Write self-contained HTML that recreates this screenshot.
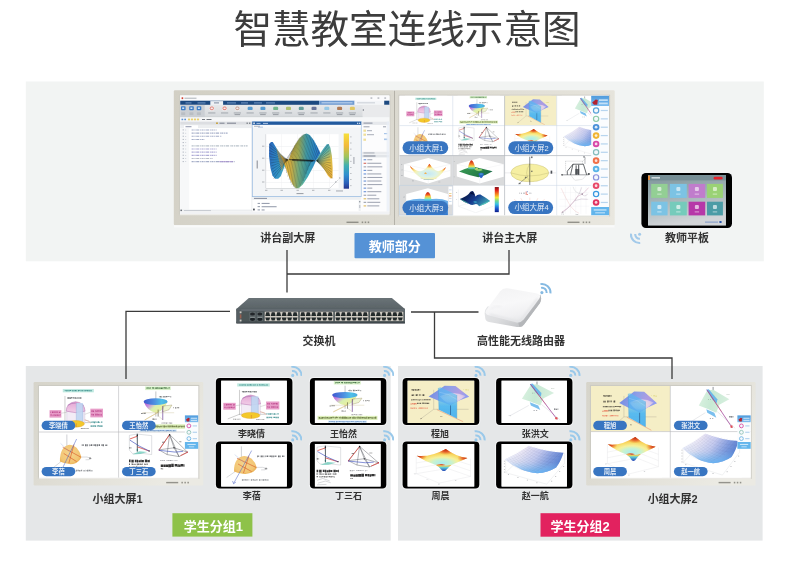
<!DOCTYPE html><html lang="zh"><head><meta charset="utf-8"><title>diagram</title><style>html,body{margin:0;padding:0;background:#fff;font-family:"Liberation Sans",sans-serif}svg{display:block}svg text{font-family:"Liberation Sans","Noto Sans CJK SC",sans-serif}</style></head><body><svg width="800" height="587" viewBox="0 0 800 587" role="img" aria-label="智慧教室连线示意图"><title>智慧教室连线示意图</title><desc>教师部分：讲台副大屏、讲台主大屏（小组大屏1、小组大屏2、小组大屏3、小组大屏4）、教师平板；交换机；高性能无线路由器；学生分组1：小组大屏1、李晓倩、王怡然、李蓓、丁三石；学生分组2：小组大屏2、程旭、张洪文、周晨、赵一航</desc><defs><filter id="b2" x="-5%" y="-10%" width="110%" height="120%"><feGaussianBlur stdDeviation="0.28"/></filter><filter id="b3" x="-5%" y="-5%" width="110%" height="110%"><feGaussianBlur stdDeviation="0.35"/></filter><filter id="b5" x="-5%" y="-5%" width="110%" height="110%"><feGaussianBlur stdDeviation="0.5"/></filter><filter id="b7" x="-5%" y="-5%" width="110%" height="110%"><feGaussianBlur stdDeviation="0.7"/></filter><linearGradient id="bez" x1="0" y1="0" x2="1" y2="0.55"><stop offset="0" stop-color="#d6d4ca"/><stop offset="0.45" stop-color="#dedcd3"/><stop offset="1" stop-color="#ebeae3"/></linearGradient><linearGradient id="bezW" gradientUnits="userSpaceOnUse" x1="174" y1="85" x2="615" y2="300"><stop offset="0" stop-color="#d2cfc4"/><stop offset="0.5" stop-color="#dddbd2"/><stop offset="1" stop-color="#ebe9e1"/></linearGradient><linearGradient id="sbh" x1="0" y1="0" x2="0" y2="1"><stop offset="0" stop-color="#4f9bdc"/><stop offset="1" stop-color="#7dbdf0"/></linearGradient><linearGradient id="mtb" x1="0" y1="0" x2="0" y2="1"><stop offset="0" stop-color="#e6e8ea"/><stop offset="1" stop-color="#d6d9dc"/></linearGradient><linearGradient id="sfL" x1="0" y1="0" x2="1" y2="0.3"><stop offset="0" stop-color="#2a62b8"/><stop offset="0.55" stop-color="#2f8fc8"/><stop offset="1" stop-color="#46a9b8"/></linearGradient><linearGradient id="sfB" x1="0" y1="0" x2="1" y2="0"><stop offset="0" stop-color="#e9b73c"/><stop offset="0.3" stop-color="#e3bd45"/><stop offset="0.52" stop-color="#7fc08c"/><stop offset="0.75" stop-color="#3ea6b4"/><stop offset="1" stop-color="#2f86c4"/></linearGradient><linearGradient id="sfT" x1="0" y1="0" x2="1" y2="0"><stop offset="0" stop-color="#e8bb40"/><stop offset="0.3" stop-color="#b9c25c"/><stop offset="0.55" stop-color="#48aab4"/><stop offset="0.8" stop-color="#2d8acb"/><stop offset="1" stop-color="#2a6fc0"/></linearGradient><linearGradient id="sfR" x1="0.2" y1="0" x2="0.6" y2="1"><stop offset="0" stop-color="#2f8cc8"/><stop offset="0.3" stop-color="#58b0aa"/><stop offset="0.6" stop-color="#d9bd4a"/><stop offset="1" stop-color="#eab23a"/></linearGradient><linearGradient id="parula" x1="0" y1="0" x2="0" y2="1"><stop offset="0" stop-color="#f6e03a"/><stop offset="0.22" stop-color="#f2ba3a"/><stop offset="0.42" stop-color="#9fc45c"/><stop offset="0.58" stop-color="#3fb0b0"/><stop offset="0.75" stop-color="#2f8fd0"/><stop offset="0.9" stop-color="#2c5fb8"/><stop offset="1" stop-color="#26358c"/></linearGradient><linearGradient id="gAdome" x1="0" y1="0" x2="0" y2="1"><stop offset="0" stop-color="#e4a6d4"/><stop offset="1" stop-color="#f2cfe8"/></linearGradient><linearGradient id="gBrim" x1="0" y1="0" x2="1" y2="0"><stop offset="0" stop-color="#3f58d0"/><stop offset="0.45" stop-color="#4f8fe0"/><stop offset="0.75" stop-color="#4fc0e8"/><stop offset="1" stop-color="#48a8e0"/></linearGradient><linearGradient id="gBbody" x1="0" y1="0" x2="1" y2="0.5"><stop offset="0" stop-color="#a848c4"/><stop offset="0.3" stop-color="#c890e0"/><stop offset="0.55" stop-color="#d8f0b0"/><stop offset="0.8" stop-color="#e8f0a0"/><stop offset="1" stop-color="#b8e0d0"/></linearGradient><radialGradient id="gCb" cx="0.45" cy="0.45" r="0.65"><stop offset="0" stop-color="#f6d48c"/><stop offset="0.7" stop-color="#f2c674"/><stop offset="1" stop-color="#e6a848"/></radialGradient><linearGradient id="gEh" x1="0" y1="0" x2="1" y2="0.3"><stop offset="0" stop-color="#6f86e0"/><stop offset="0.5" stop-color="#8fa0e8"/><stop offset="0.8" stop-color="#b09ce0"/><stop offset="1" stop-color="#8f9cf0"/></linearGradient><linearGradient id="gEp" x1="0" y1="0" x2="0" y2="1"><stop offset="0" stop-color="#58bcf4" stop-opacity="0.6"/><stop offset="0.45" stop-color="#4cb6f2" stop-opacity="0.72"/><stop offset="0.6" stop-color="#4cb6f2" stop-opacity="0.92"/><stop offset="1" stop-color="#48b0f0" stop-opacity="0.95"/></linearGradient><radialGradient id="gEi" cx="0.5" cy="0.4" r="0.6"><stop offset="0" stop-color="#f2e4dc"/><stop offset="0.6" stop-color="#e0cde8"/><stop offset="1" stop-color="#a8a4e8"/></radialGradient><linearGradient id="gFg" x1="0" y1="0" x2="1" y2="0.2"><stop offset="0" stop-color="#dcf2e2"/><stop offset="0.5" stop-color="#c8e9d4"/><stop offset="1" stop-color="#d6efde"/></linearGradient><radialGradient id="gGs" gradientUnits="userSpaceOnUse" cx="330" cy="180" r="300" gradientTransform="translate(0,112) scale(1,0.38)"><stop offset="0" stop-color="#a8ecf0"/><stop offset="0.3" stop-color="#c8f2d0"/><stop offset="0.5" stop-color="#f6f09a"/><stop offset="0.75" stop-color="#f8d860"/><stop offset="1" stop-color="#f4ac40"/></radialGradient><radialGradient id="gGr"><stop offset="0" stop-color="#b82414"/><stop offset="0.45" stop-color="#e04c24" stop-opacity="0.85"/><stop offset="1" stop-color="#f08030" stop-opacity="0"/></radialGradient><linearGradient id="gGu" x1="0" y1="0" x2="0" y2="1"><stop offset="0" stop-color="#e86030"/><stop offset="0.22" stop-color="#f0d050"/><stop offset="0.45" stop-color="#60d0d8"/><stop offset="1" stop-color="#2848b8"/></linearGradient><clipPath id="gGc"><path d="M86 112 Q215 128 363 47 Q460 120 570 132 Q470 175 420 196 Q350 215 308 197 Q290 195 268 200 Q170 170 86 112 Z"/></clipPath><linearGradient id="gHs" x1="0" y1="0.2" x2="1" y2="0.5"><stop offset="0" stop-color="#f6f5fb"/><stop offset="0.3" stop-color="#e8e4f4"/><stop offset="0.55" stop-color="#c4c8ee"/><stop offset="0.78" stop-color="#8098dc"/><stop offset="1" stop-color="#4a70c8"/></linearGradient><linearGradient id="gHb" x1="0" y1="0" x2="0" y2="1"><stop offset="0" stop-color="#fff" stop-opacity="0"/><stop offset="0.6" stop-color="#8cc8f4" stop-opacity="0.15"/><stop offset="1" stop-color="#60b4f4" stop-opacity="0.85"/></linearGradient><radialGradient id="gIs" gradientUnits="userSpaceOnUse" cx="207" cy="130" r="150" gradientTransform="translate(0,78) scale(1,0.4)"><stop offset="0" stop-color="#c4e8f6"/><stop offset="0.4" stop-color="#dcf2e8"/><stop offset="0.65" stop-color="#f6f2b4"/><stop offset="0.85" stop-color="#f8d878"/><stop offset="1" stop-color="#f4a850"/></radialGradient><radialGradient id="gIr"><stop offset="0" stop-color="#dc3c20"/><stop offset="0.5" stop-color="#f08838" stop-opacity="0.8"/><stop offset="1" stop-color="#f8c050" stop-opacity="0"/></radialGradient><clipPath id="gIc"><path d="M74 74 Q120 112 150 112 Q190 104 216 58 Q246 104 280 112 Q310 108 336 84 Q316 128 262 166 Q212 186 160 164 Q104 128 74 74 Z"/></clipPath><linearGradient id="gJs" x1="0" y1="0" x2="1" y2="0.4"><stop offset="0" stop-color="#3a9a58"/><stop offset="0.5" stop-color="#2e8a4c"/><stop offset="1" stop-color="#1e6e48"/></linearGradient><linearGradient id="gJp" x1="0" y1="0" x2="0" y2="1"><stop offset="0" stop-color="#c82018"/><stop offset="0.4" stop-color="#f07828"/><stop offset="0.65" stop-color="#e8e050"/><stop offset="0.85" stop-color="#58c8c0"/><stop offset="1" stop-color="#3a9a58"/></linearGradient><linearGradient id="gKp" x1="0" y1="0" x2="0" y2="1"><stop offset="0" stop-color="#c01810"/><stop offset="0.3" stop-color="#f05820"/><stop offset="0.5" stop-color="#f8c840"/><stop offset="0.7" stop-color="#a8e890"/><stop offset="0.85" stop-color="#58d0e0"/><stop offset="1" stop-color="#4aa0e0"/></linearGradient><linearGradient id="gKs" x1="0" y1="0" x2="0" y2="1"><stop offset="0" stop-color="#6fb4ec"/><stop offset="1" stop-color="#3478cc"/></linearGradient><linearGradient id="jet" x1="0" y1="0" x2="0" y2="1"><stop offset="0" stop-color="#7c0c10"/><stop offset="0.12" stop-color="#e01c18"/><stop offset="0.3" stop-color="#f89020"/><stop offset="0.42" stop-color="#f0e838"/><stop offset="0.55" stop-color="#70d890"/><stop offset="0.68" stop-color="#38c0e8"/><stop offset="0.85" stop-color="#1c58d0"/><stop offset="1" stop-color="#0c1c88"/></linearGradient><linearGradient id="gLs" x1="0" y1="0" x2="1" y2="0.5"><stop offset="0" stop-color="#2a7cb0"/><stop offset="0.3" stop-color="#0c2058"/><stop offset="0.6" stop-color="#183c90"/><stop offset="1" stop-color="#3a9cb0"/></linearGradient><linearGradient id="ttbg" x1="0" y1="0" x2="0.25" y2="1"><stop offset="0" stop-color="#7d949a"/><stop offset="0.45" stop-color="#9fb0b4"/><stop offset="1" stop-color="#d2d5d8"/></linearGradient><linearGradient id="swtop" x1="0" y1="0" x2="0" y2="1"><stop offset="0" stop-color="#6a7377"/><stop offset="1" stop-color="#5a6367"/></linearGradient><linearGradient id="rtop" x1="0.25" y1="0" x2="0.55" y2="1"><stop offset="0" stop-color="#f3f3f4"/><stop offset="0.45" stop-color="#f8f8f9"/><stop offset="0.8" stop-color="#f0f0f2"/><stop offset="1" stop-color="#e6e7e9"/></linearGradient><linearGradient id="rside" x1="0" y1="0" x2="1" y2="0.5"><stop offset="0" stop-color="#e9eaec"/><stop offset="0.5" stop-color="#dcdddf"/><stop offset="1" stop-color="#bcbec1"/></linearGradient><filter id="b9" x="-10%" y="-10%" width="120%" height="120%"><feGaussianBlur stdDeviation="0.8"/></filter><filter id="gb" filterUnits="userSpaceOnUse" x="0" y="0" width="800" height="587"><feGaussianBlur stdDeviation="0.3"/></filter></defs><rect width="800" height="587" fill="#fff"/><g filter="url(#gb)"><rect x="25.8" y="81.5" width="738" height="179.8" fill="#f2f4f3"/>
<rect x="25.8" y="366" width="364.9" height="174.6" fill="#e5e7e8"/>
<rect x="398" y="366" width="364.6" height="174.6" fill="#e5e7e8"/>
<text x="407" y="43" font-size="38.6" fill="#3c3c3c" text-anchor="middle">智慧教室连线示意图</text>
<path d="M287 250 L287 292.5" fill="none" stroke="#3a3a3a" stroke-width="1.3" stroke-linejoin="miter"/>
<path d="M287 274 L509 274 L509 250" fill="none" stroke="#3a3a3a" stroke-width="1.3" stroke-linejoin="miter"/>
<path d="M230 311.3 L126 311.3 L126 379" fill="none" stroke="#3a3a3a" stroke-width="1.3" stroke-linejoin="miter"/>
<path d="M411 312 L478.5 312" fill="none" stroke="#3a3a3a" stroke-width="1.3" stroke-linejoin="miter"/>
<path d="M434.5 312 L434.5 358 L672 358 L672 379" fill="none" stroke="#3a3a3a" stroke-width="1.3" stroke-linejoin="miter"/>
<text x="287.7" y="242" font-size="11" font-weight="bold" fill="#323232" text-anchor="middle" filter="url(#b2)">讲台副大屏</text>
<text x="509.7" y="242" font-size="11" font-weight="bold" fill="#323232" text-anchor="middle" filter="url(#b2)">讲台主大屏</text>
<text x="687" y="241.5" font-size="11" font-weight="bold" fill="#323232" text-anchor="middle" filter="url(#b2)">教师平板</text>
<text x="319" y="344.7" font-size="11" font-weight="bold" fill="#323232" text-anchor="middle" filter="url(#b2)">交换机</text>
<text x="521" y="344.8" font-size="11" font-weight="bold" fill="#323232" text-anchor="middle" filter="url(#b2)">高性能无线路由器</text>
<text x="117.5" y="502.8" font-size="11" font-weight="bold" fill="#323232" text-anchor="middle" filter="url(#b2)">小组大屏1</text>
<text x="672.7" y="502.6" font-size="11" font-weight="bold" fill="#323232" text-anchor="middle" filter="url(#b2)">小组大屏2</text>
<text x="251.5" y="436.8" font-size="9" font-weight="bold" fill="#323232" text-anchor="middle" filter="url(#b2)">李晓倩</text>
<text x="343.5" y="436.8" font-size="9" font-weight="bold" fill="#323232" text-anchor="middle" filter="url(#b2)">王怡然</text>
<text x="251.8" y="499" font-size="9" font-weight="bold" fill="#323232" text-anchor="middle" filter="url(#b2)">李蓓</text>
<text x="348.4" y="498.8" font-size="9" font-weight="bold" fill="#323232" text-anchor="middle" filter="url(#b2)">丁三石</text>
<text x="440" y="436.7" font-size="9" font-weight="bold" fill="#323232" text-anchor="middle" filter="url(#b2)">程旭</text>
<text x="535.2" y="436.7" font-size="9" font-weight="bold" fill="#323232" text-anchor="middle" filter="url(#b2)">张洪文</text>
<text x="440.4" y="498.7" font-size="9" font-weight="bold" fill="#323232" text-anchor="middle" filter="url(#b2)">周晨</text>
<text x="535.2" y="498.8" font-size="9" font-weight="bold" fill="#323232" text-anchor="middle" filter="url(#b2)">赵一航</text>
<rect x="354.5" y="233" width="80.5" height="25.3" rx="1" fill="#5492d6"/>
<text x="394.7" y="251" font-size="13" font-weight="bold" fill="#fff" text-anchor="middle" filter="url(#b2)">教师部分</text>
<rect x="172.4" y="513.2" width="80" height="23.400000000000034" fill="#8ec24a"/>
<text x="213.4" y="530.5" font-size="13" font-weight="bold" fill="#fff" text-anchor="middle" filter="url(#b2)">学生分组1</text>
<rect x="540.5" y="513.2" width="79.5" height="23.5" fill="#e2245e"/>
<text x="580.2" y="530.5" font-size="13" font-weight="bold" fill="#fff" text-anchor="middle" filter="url(#b2)">学生分组2</text>
<g><g filter="url(#b3)"><rect x="173.8" y="90.3" width="220.5" height="134.89999999999998" rx="1.2" fill="url(#bezW)"/><rect x="179.1" y="94.5" width="211.3" height="120.80000000000001" fill="#cccbc3"/><rect x="179.89999999999998" y="214" width="209.70000000000002" height="1.3" fill="#eeede8"/><rect x="180.2" y="95.6" width="209.10000000000002" height="118.4" fill="#fff"/><rect x="346.5" y="221.6" width="12" height="1.4" fill="#7e7d76" opacity="0.8"/><rect x="361.7" y="221.49999999999997" width="1.5" height="1.6" fill="#7e7d76" opacity="0.8"/><rect x="364.7" y="221.49999999999997" width="1.5" height="1.6" fill="#7e7d76" opacity="0.8"/><rect x="367.7" y="221.49999999999997" width="1.5" height="1.6" fill="#7e7d76" opacity="0.8"/></g><g filter="url(#b3)"><rect x="180.2" y="95.6" width="209.10000000000002" height="118.4" fill="#fdfdfd"/><rect x="180.2" y="95.6" width="209.10000000000002" height="5.2" fill="#fbfbfc"/><rect x="181.6" y="97.3" width="1.6" height="1.8" fill="#d04030"/><rect x="184.5" y="97.7" width="12" height="1" fill="#9aa0a8" opacity="0.8"/><rect x="370.5" y="97.6" width="1.8" height="0.9" fill="#8a9098"/><rect x="377.5" y="97.6" width="1.8" height="0.9" fill="#8a9098"/><rect x="384.3" y="97.6" width="1.8" height="0.9" fill="#8a9098"/><rect x="180.2" y="100.7" width="139.0" height="4.2" fill="#1d4a80"/><rect x="210.3" y="101.1" width="12.8" height="3.9" fill="#eef1f5"/><rect x="214" y="102.4" width="5" height="1" fill="#7d8aa0"/><rect x="185.5" y="102.4" width="6.0" height="1" fill="#8fb0dc" opacity="0.75"/><rect x="197.5" y="102.4" width="8.0" height="1" fill="#8fb0dc" opacity="0.75"/><rect x="227" y="102.4" width="9" height="1" fill="#8fb0dc" opacity="0.75"/><rect x="241" y="102.4" width="7" height="1" fill="#8fb0dc" opacity="0.75"/><rect x="254" y="102.4" width="8" height="1" fill="#8fb0dc" opacity="0.75"/><rect x="266" y="102.4" width="9" height="1" fill="#8fb0dc" opacity="0.75"/><rect x="319.2" y="100.7" width="35.4" height="4.2" fill="#6e9ad0"/><rect x="321.5" y="102.2" width="31" height="1.2" fill="#c9dcf2" opacity="0.8"/><rect x="354.6" y="100.7" width="29.6" height="4.2" fill="#f3f5f8"/><rect x="357" y="102.4" width="18" height="0.9" fill="#c5cad2"/><rect x="384.2" y="100.7" width="5.100000000000023" height="4.2" fill="#1d4a80"/><rect x="180.2" y="104.9" width="209.10000000000002" height="12.4" fill="url(#mtb)"/><rect x="180.2" y="104.9" width="24.5" height="12.4" fill="#cbcfd4"/><rect x="362.5" y="104.9" width="26.8" height="12.4" fill="#e9eaec"/><rect x="181.0" y="106.3" width="4.6" height="4" rx="0.8" fill="#3b7cc6"/><rect x="182.2" y="107.4" width="2" height="1.6" fill="#cfe2f6"/><rect x="181.2" y="112.3" width="4" height="2.8" fill="#b9bec4"/><rect x="189.20000000000002" y="106.3" width="4.6" height="4" rx="0.8" fill="#3b7cc6"/><rect x="190.4" y="107.4" width="2" height="1.6" fill="#cfe2f6"/><rect x="189.4" y="112.3" width="4" height="2.8" fill="#b9bec4"/><rect x="196.70000000000002" y="106.3" width="4.6" height="4" rx="0.8" fill="#3b7cc6"/><rect x="197.9" y="107.4" width="2" height="1.6" fill="#cfe2f6"/><rect x="196.9" y="112.3" width="4" height="2.8" fill="#b9bec4"/><rect x="209.4" y="106.4" width="4.8" height="4.2" rx="1" fill="#f6eeee"/><rect x="210.20000000000002" y="107" width="3.2" height="2.6" rx="1" fill="none" stroke="#d9665c" stroke-width="0.8"/><rect x="208.20000000000002" y="112.4" width="7.2" height="1.1" fill="#9ea3aa" opacity="0.85"/><rect x="222.18" y="106.4" width="4.8" height="4.2" rx="1" fill="#f6eeee"/><rect x="222.98000000000002" y="107" width="3.2" height="2.6" rx="1" fill="none" stroke="#d9665c" stroke-width="0.8"/><rect x="220.98000000000002" y="112.4" width="7.2" height="1.1" fill="#9ea3aa" opacity="0.85"/><rect x="234.96" y="106.4" width="4.8" height="4.2" rx="1" fill="#f6eeee"/><rect x="235.76000000000002" y="107" width="3.2" height="2.6" rx="1" fill="none" stroke="#b88a78" stroke-width="0.8"/><rect x="233.76000000000002" y="112.4" width="7.2" height="1.1" fill="#9ea3aa" opacity="0.85"/><rect x="234.56" y="114.1" width="5.6" height="1" fill="#878c94" opacity="0.8"/><rect x="247.64000000000001" y="106.7" width="5" height="3.4" rx="1.2" fill="#3f8fcc" opacity="0.85"/><rect x="246.54000000000002" y="112.4" width="7.2" height="1.1" fill="#9ea3aa" opacity="0.85"/><rect x="260.42" y="106.7" width="5" height="3.4" rx="1.2" fill="#3f8fcc" opacity="0.85"/><rect x="259.32" y="112.4" width="7.2" height="1.1" fill="#9ea3aa" opacity="0.85"/><rect x="260.12" y="114.1" width="5.6" height="1" fill="#878c94" opacity="0.8"/><rect x="273.2" y="106.7" width="5" height="3.4" rx="1.2" fill="#5fae7c" opacity="0.85"/><rect x="272.09999999999997" y="112.4" width="7.2" height="1.1" fill="#9ea3aa" opacity="0.85"/><rect x="272.9" y="114.1" width="5.6" height="1" fill="#878c94" opacity="0.8"/><rect x="285.98" y="106.7" width="5" height="3.4" rx="1.2" fill="#a7b85c" opacity="0.85"/><rect x="284.88" y="112.4" width="7.2" height="1.1" fill="#9ea3aa" opacity="0.85"/><rect x="298.76" y="106.7" width="5" height="3.4" rx="1.2" fill="#4e8f8c" opacity="0.85"/><rect x="297.65999999999997" y="112.4" width="7.2" height="1.1" fill="#9ea3aa" opacity="0.85"/><rect x="298.46" y="114.1" width="5.6" height="1" fill="#878c94" opacity="0.8"/><rect x="311.54" y="106.7" width="5" height="3.4" rx="1.2" fill="#55608c" opacity="0.85"/><rect x="310.44" y="112.4" width="7.2" height="1.1" fill="#9ea3aa" opacity="0.85"/><rect x="324.32" y="106.7" width="5" height="3.4" rx="1.2" fill="#8ac4e6" opacity="0.85"/><rect x="323.21999999999997" y="112.4" width="7.2" height="1.1" fill="#9ea3aa" opacity="0.85"/><rect x="337.1" y="106.7" width="5" height="3.4" rx="1.2" fill="#a9683c" opacity="0.85"/><rect x="336.0" y="112.4" width="7.2" height="1.1" fill="#9ea3aa" opacity="0.85"/><rect x="336.8" y="114.1" width="5.6" height="1" fill="#878c94" opacity="0.8"/><rect x="349.88" y="106.7" width="5" height="3.4" rx="1.2" fill="#e0c24a" opacity="0.85"/><rect x="348.78" y="112.4" width="7.2" height="1.1" fill="#9ea3aa" opacity="0.85"/><rect x="349.58" y="114.1" width="5.6" height="1" fill="#878c94" opacity="0.8"/><rect x="362.8" y="109" width="1" height="2" fill="#8a9098"/><rect x="180.2" y="116.6" width="182.3" height="0.8" fill="#c9ccd0"/><rect x="180.2" y="117.3" width="209.10000000000002" height="4.3" fill="#f6f7f8"/><rect x="181.5" y="118.7" width="1.7" height="1.5" fill="#5a8fd0"/><rect x="184.3" y="118.7" width="1.7" height="1.5" fill="#5a8fd0"/><rect x="188" y="118.6" width="2.1" height="1.7" fill="#e9cf6a"/><rect x="191" y="118.6" width="2.1" height="1.7" fill="#e9cf6a"/><rect x="194" y="118.6" width="2.1" height="1.7" fill="#e9cf6a"/><rect x="197" y="118.6" width="2.1" height="1.7" fill="#e9cf6a"/><rect x="202" y="119" width="3" height="1" fill="#70757c"/><rect x="206.5" y="119" width="5" height="1" fill="#70757c"/><rect x="180.2" y="121.6" width="71.6" height="3.3" fill="#dcdee2"/><rect x="216" y="122.4" width="2" height="1.6" fill="#c8a850"/><rect x="219.5" y="122.7" width="5" height="1" fill="#7c8290"/><rect x="227" y="122.7" width="9" height="1" fill="#7c8290"/><rect x="246.5" y="122.6" width="1.4" height="1.2" fill="#70757c"/><rect x="249" y="122.6" width="1.4" height="1.2" fill="#70757c"/><rect x="180.2" y="124.9" width="71.6" height="86.5" fill="#fff"/><rect x="180.2" y="124.9" width="71.6" height="3.2" fill="#eceef0"/><rect x="184" y="125.3" width="14" height="2.8" fill="#fff"/><rect x="185.5" y="126.3" width="6" height="0.9" fill="#8088a0"/><rect x="180.2" y="128.1" width="9" height="82" fill="#f7f8f9"/><rect x="182.6" y="129.40" width="1.3" height="1" fill="#b0b6c0"/><rect x="185" y="129.70" width="1.2" height="0.6" fill="#c0c6d0"/><path d="M191.6 129.95 h25" stroke="#7f8cb0" stroke-width="1.15" stroke-dasharray="2.1 0.7 1.2 0.6 3.1 0.9 0.8 0.5" opacity="0.7" fill="none"/><rect x="182.6" y="132.57" width="1.3" height="1" fill="#b0b6c0"/><rect x="185" y="132.87" width="1.2" height="0.6" fill="#c0c6d0"/><path d="M191.6 133.12 h36" stroke="#7f8cb0" stroke-width="1.15" stroke-dasharray="2.1 0.7 1.2 0.6 3.1 0.9 0.8 0.5" opacity="0.7" fill="none"/><rect x="182.6" y="135.74" width="1.3" height="1" fill="#b0b6c0"/><rect x="185" y="136.04" width="1.2" height="0.6" fill="#c0c6d0"/><path d="M191.6 136.29 h30" stroke="#7f8cb0" stroke-width="1.15" stroke-dasharray="2.1 0.7 1.2 0.6 3.1 0.9 0.8 0.5" opacity="0.7" fill="none"/><rect x="182.6" y="138.91" width="1.3" height="1" fill="#b0b6c0"/><rect x="185" y="139.21" width="1.2" height="0.6" fill="#c0c6d0"/><path d="M191.6 139.46 h13" stroke="#7f8cb0" stroke-width="1.15" stroke-dasharray="2.1 0.7 1.2 0.6 3.1 0.9 0.8 0.5" opacity="0.7" fill="none"/><rect x="182.6" y="142.08" width="1.3" height="1" fill="#b0b6c0"/><rect x="185" y="142.38" width="1.2" height="0.6" fill="#c0c6d0"/><rect x="182.6" y="145.25" width="1.3" height="1" fill="#b0b6c0"/><rect x="185" y="145.55" width="1.2" height="0.6" fill="#c0c6d0"/><path d="M191.6 145.80 h56" stroke="#9aa6b4" stroke-width="1.15" stroke-dasharray="2.1 0.7 1.2 0.6 3.1 0.9 0.8 0.5" opacity="0.7" fill="none"/><rect x="182.6" y="148.42" width="1.3" height="1" fill="#b0b6c0"/><rect x="185" y="148.72" width="1.2" height="0.6" fill="#c0c6d0"/><path d="M191.6 148.97 h25" stroke="#8a86c4" stroke-width="1.15" stroke-dasharray="2.1 0.7 1.2 0.6 3.1 0.9 0.8 0.5" opacity="0.7" fill="none"/><rect x="182.6" y="151.59" width="1.3" height="1" fill="#b0b6c0"/><rect x="185" y="151.89" width="1.2" height="0.6" fill="#c0c6d0"/><path d="M191.6 152.14 h25" stroke="#8a86c4" stroke-width="1.15" stroke-dasharray="2.1 0.7 1.2 0.6 3.1 0.9 0.8 0.5" opacity="0.7" fill="none"/><rect x="182.6" y="154.76" width="1.3" height="1" fill="#b0b6c0"/><rect x="185" y="155.06" width="1.2" height="0.6" fill="#c0c6d0"/><path d="M191.6 155.31 h25" stroke="#8a86c4" stroke-width="1.15" stroke-dasharray="2.1 0.7 1.2 0.6 3.1 0.9 0.8 0.5" opacity="0.7" fill="none"/><rect x="182.6" y="157.93" width="1.3" height="1" fill="#b0b6c0"/><rect x="185" y="158.23" width="1.2" height="0.6" fill="#c0c6d0"/><path d="M191.6 158.48 h21" stroke="#9aa0b0" stroke-width="1.15" stroke-dasharray="2.1 0.7 1.2 0.6 3.1 0.9 0.8 0.5" opacity="0.7" fill="none"/><rect x="182.6" y="161.10" width="1.3" height="1" fill="#b0b6c0"/><rect x="185" y="161.40" width="1.2" height="0.6" fill="#c0c6d0"/><path d="M191.6 161.65 h43" stroke="#7f8cb0" stroke-width="1.15" stroke-dasharray="2.1 0.7 1.2 0.6 3.1 0.9 0.8 0.5" opacity="0.7" fill="none"/><rect x="219" y="161.1" width="14" height="1.15" fill="#a98ad0" opacity="0.6"/><rect x="180.2" y="209.6" width="71.6" height="1.9" fill="#eceef0"/><rect x="184" y="210" width="27" height="1.1" fill="#c8ccd2"/><rect x="180.4" y="209.6" width="1.6" height="1.6" fill="#70757c"/><rect x="251.8" y="121.6" width="0.6" height="90" fill="#c5cad2"/><rect x="252.3" y="121.7" width="109" height="74.9" fill="#f3f5f7" stroke="#9cbde2" stroke-width="0.8"/><rect x="252.3" y="121.7" width="109" height="3.2" fill="#235a9e"/><rect x="253.3" y="122.5" width="1.5" height="1.6" fill="#e8ecf2"/><rect x="256.5" y="122.9" width="4" height="0.9" fill="#b9cfea"/><rect x="263" y="122.9" width="5" height="0.9" fill="#b9cfea"/><rect x="357" y="122.7" width="1.3" height="1.2" fill="#d5e2f2"/><rect x="359" y="122.7" width="1.3" height="1.2" fill="#d5e2f2"/><rect x="252.7" y="124.9" width="108.2" height="2.6" fill="#fafbfc"/><rect x="254" y="125.8" width="6" height="0.9" fill="#a8aeb8"/><rect x="258" y="126.6" width="5" height="1.1" fill="#9cb4d4" opacity="0.7"/><rect x="265.8" y="134.2" width="72.8" height="54" fill="#fff"/><rect x="265.8" y="146.2" width="72.8" height="0.4" fill="#e6e8ea"/><rect x="262" y="145.7" width="2.4" height="1" fill="#a0a4aa" opacity="0.8"/><rect x="265.8" y="158.2" width="72.8" height="0.4" fill="#e6e8ea"/><rect x="262" y="157.7" width="2.4" height="1" fill="#a0a4aa" opacity="0.8"/><rect x="265.8" y="170.2" width="72.8" height="0.4" fill="#e6e8ea"/><rect x="262" y="169.7" width="2.4" height="1" fill="#a0a4aa" opacity="0.8"/><rect x="265.8" y="182" width="72.8" height="0.4" fill="#e6e8ea"/><rect x="262" y="181.5" width="2.4" height="1" fill="#a0a4aa" opacity="0.8"/><rect x="281.5" y="134.2" width="0.4" height="54" fill="#eceef0"/><rect x="297.5" y="134.2" width="0.4" height="54" fill="#eceef0"/><rect x="313" y="134.2" width="0.4" height="54" fill="#eceef0"/><rect x="329" y="134.2" width="0.4" height="54" fill="#eceef0"/><rect x="265" y="189.8" width="2.4" height="1" fill="#a0a4aa" opacity="0.8"/><rect x="280.5" y="189.8" width="2.4" height="1" fill="#a0a4aa" opacity="0.8"/><rect x="296.5" y="189.8" width="2.4" height="1" fill="#a0a4aa" opacity="0.8"/><rect x="312" y="189.8" width="2.4" height="1" fill="#a0a4aa" opacity="0.8"/><rect x="328" y="189.8" width="2.4" height="1" fill="#a0a4aa" opacity="0.8"/><rect x="265.6" y="134.2" width="0.5" height="54" fill="#c0c4c8"/><rect x="265.8" y="188" width="64" height="0.5" fill="#c0c4c8"/><path d="M329.8 188.2 L338.4 179.6" stroke="#b4b8bc" stroke-width="0.5" fill="none"/><rect x="256.6" y="160.5" width="1.3" height="8" fill="#8a8e96" opacity="0.8"/><rect x="296.5" y="193" width="7" height="1.1" fill="#8a8e96" opacity="0.8"/><rect x="336" y="190.4" width="7" height="1.1" fill="#9a9ea6" opacity="0.8"/><rect x="353.3" y="157" width="1.2" height="7" fill="#9a9ea6" opacity="0.8"/><rect x="335" y="181.5" width="1.4" height="1" fill="#a0a4aa"/><rect x="339" y="177.5" width="1.4" height="1" fill="#a0a4aa"/><polygon points="269.20,144.00 271.00,141.90 272.80,141.90 275.80,147.00 280.00,153.75 284.80,158.70 289.30,160.20 286.00,163.50 283.30,169.50 280.75,176.25 278.20,178.80 275.20,178.80 272.50,175.80 270.40,168.00 269.05,156.00" fill="url(#sfL)"/><polygon points="280.00,154.20 284.80,158.70 295.00,160.50 316.00,160.80 313.00,167.25 307.75,177.00 302.80,184.50 298.75,188.25 295.75,188.25 292.75,184.80 289.30,177.75 285.70,168.00 282.25,159.30" fill="url(#sfB)"/><polygon points="288.70,160.20 290.80,153.75 294.70,145.50 299.50,138.30 303.70,134.40 306.70,133.50 309.70,135.00 313.75,140.25 317.50,147.00 320.50,153.30 318.25,157.50 316.00,160.80 302.50,160.80" fill="url(#sfT)"/><polygon points="316.00,160.80 319.30,154.80 323.50,148.50 326.80,144.30 328.60,144.00 330.40,147.75 331.90,156.00 332.65,168.00 332.50,177.75 331.00,178.80 328.00,175.80 324.25,169.50 320.50,164.70" fill="url(#sfR)"/><polygon points="276.25,147.75 280.75,154.50 284.80,158.70 283.30,165.00 281.80,171.00 280.00,165.00 277.90,156.00" fill="#d8a848" opacity="0.55"/><path d="M286.22 159.37 L292.15 150.52 M286.22 159.37 L283.65 164.76 M287.63 159.43 L293.50 147.80 M287.63 159.43 L285.04 168.92 M289.05 159.50 L294.85 145.20 M289.05 159.50 L286.44 172.88 M290.47 159.57 L296.20 142.76 M290.47 159.57 L287.84 176.55 M291.89 159.64 L297.55 140.53 M291.89 159.64 L289.24 179.84 M293.31 159.71 L298.90 138.56 M293.31 159.71 L290.63 182.66 M294.73 159.78 L300.25 136.89 M294.73 159.78 L292.03 184.97 M296.14 159.84 L301.60 135.56 M296.14 159.84 L293.43 186.69 M297.56 159.91 L302.95 134.59 M297.56 159.91 L294.83 187.78 M298.98 159.98 L304.30 134.00 M298.98 159.98 L296.22 188.24 M300.40 160.05 L305.65 133.80 M300.40 160.05 L297.62 188.03 M301.82 160.12 L307.00 134.00 M301.82 160.12 L299.02 187.17 M303.23 160.18 L308.35 134.59 M303.23 160.18 L300.42 185.67 M304.65 160.25 L309.70 135.56 M304.65 160.25 L301.82 183.58 M306.07 160.32 L311.05 136.89 M306.07 160.32 L303.21 180.94 M307.49 160.39 L312.40 138.56 M307.49 160.39 L304.61 177.82 M308.91 160.46 L313.75 140.53 M308.91 160.46 L306.01 174.28 M310.32 160.53 L315.10 142.76 M310.32 160.53 L307.41 170.42 M311.74 160.59 L316.45 145.20 M311.74 160.59 L308.80 166.32 M313.16 160.66 L317.80 147.80 M313.16 160.66 L310.20 162.08 M314.58 160.73 L319.15 150.52 M314.58 160.73 L311.60 160.50 " stroke="#101820" stroke-width="0.36" opacity="0.72" fill="none"/><path d="M287.50 159.90 L269.20 144.00 M316.75 160.80 L328.60 144.30 M287.50 159.90 L269.24 147.16 M316.75 160.80 L328.96 147.41 M287.50 159.90 L269.35 150.33 M316.75 160.80 L329.33 150.52 M287.50 159.90 L269.53 153.49 M316.75 160.80 L329.70 153.63 M287.50 159.90 L269.79 156.65 M316.75 160.80 L330.07 156.73 M287.50 159.90 L270.13 159.82 M316.75 160.80 L330.44 159.84 M287.50 159.90 L270.54 162.98 M316.75 160.80 L330.81 162.95 M287.50 159.90 L271.02 166.14 M316.75 160.80 L331.17 166.06 M287.50 159.90 L271.58 169.31 M316.75 160.80 L331.54 169.17 M287.50 159.90 L272.21 172.47 M316.75 160.80 L331.91 172.28 M287.50 159.90 L272.92 175.63 M316.75 160.80 L332.28 175.39 M287.50 159.90 L273.70 178.80 M316.75 160.80 L332.65 178.50 " stroke="#101820" stroke-width="0.36" opacity="0.68" fill="none"/><path d="M289.30 159.60 L314.50 160.80" stroke="#0c1014" stroke-width="1.0" opacity="0.6" stroke-linecap="round"/><path d="M292.75 159.90 L312.25 160.80" stroke="#000" stroke-width="2.0" opacity="0.45" stroke-linecap="round"/><rect x="343.7" y="133.5" width="5.3" height="55.2" fill="url(#parula)"/><rect x="350" y="136.5" width="1.6" height="0.8" fill="#a4a8ae" opacity="0.8"/><rect x="350" y="142.6" width="1.6" height="0.8" fill="#a4a8ae" opacity="0.8"/><rect x="350" y="148.7" width="1.6" height="0.8" fill="#a4a8ae" opacity="0.8"/><rect x="350" y="154.8" width="1.6" height="0.8" fill="#a4a8ae" opacity="0.8"/><rect x="350" y="160.9" width="1.6" height="0.8" fill="#a4a8ae" opacity="0.8"/><rect x="350" y="167.0" width="1.6" height="0.8" fill="#a4a8ae" opacity="0.8"/><rect x="350" y="173.1" width="1.6" height="0.8" fill="#a4a8ae" opacity="0.8"/><rect x="350" y="179.2" width="1.6" height="0.8" fill="#a4a8ae" opacity="0.8"/><rect x="350" y="185.3" width="1.6" height="0.8" fill="#a4a8ae" opacity="0.8"/><rect x="252.3" y="197" width="109" height="14.6" fill="#fff"/><rect x="252.3" y="197" width="109" height="2.8" fill="#eef0f2"/><rect x="254" y="197.9" width="13" height="1" fill="#8a90a0"/><rect x="257.6" y="202.90" width="2.4" height="1" fill="#9098a8"/><rect x="261.6" y="202.90" width="8" height="1.1" fill="#80889c" opacity="0.8"/><rect x="257.6" y="206.15" width="2.4" height="1" fill="#9098a8"/><rect x="261.6" y="206.15" width="15" height="1.1" fill="#80889c" opacity="0.8"/><rect x="257.6" y="209.40" width="2.4" height="1" fill="#9098a8"/><rect x="261.6" y="209.40" width="3" height="1.1" fill="#80889c" opacity="0.8"/><rect x="253" y="208.6" width="1.8" height="1.8" fill="#50545c"/><rect x="358.6" y="200" width="2.2" height="11" fill="#eef0f2"/><rect x="359" y="201" width="1.4" height="1.4" fill="#9aa0a8"/><rect x="359" y="205" width="1.4" height="3" fill="#c5c9d0"/><rect x="361.8" y="121.6" width="27.5" height="90" fill="#fcfcfd"/><rect x="361.8" y="121.6" width="27.5" height="3.3" fill="#e6e8ec"/><rect x="363.5" y="122.6" width="9" height="1" fill="#8a90a0"/><rect x="363.5" y="126.3" width="6" height="1" fill="#9aa0ac"/><rect x="383" y="126.3" width="3" height="1" fill="#9aa0ac"/><rect x="363.4" y="129.6" width="2.6" height="2.2" fill="#efdf9a"/><rect x="367" y="130.2" width="5" height="1" fill="#a8adb8"/><rect x="363.4" y="133.6" width="2.6" height="2.2" fill="#efdf9a"/><rect x="367" y="134.2" width="7" height="1" fill="#a8adb8"/><rect x="363.4" y="138.6" width="2.6" height="2.2" fill="#efdf9a"/><rect x="367" y="139.2" width="0" height="1" fill="#a8adb8"/><rect x="384" y="133" width="3.4" height="1.2" fill="#a9c6ea"/><rect x="384" y="138.5" width="3.4" height="1.6" fill="#a9c6ea"/><rect x="361.8" y="151.8" width="27.5" height="2.3" fill="#e9ebee"/><rect x="363.5" y="152.5" width="11" height="0.9" fill="#a0a5b0"/><rect x="361.8" y="154.6" width="27.5" height="2.8" fill="#e2e5e9"/><rect x="363.5" y="155.5" width="12" height="1" fill="#7d8494"/><rect x="363.6" y="159.20" width="2.6" height="1.1" fill="#4f7fd0" opacity="0.85"/><rect x="367.3" y="159.20" width="5" height="1.05" fill="#7a8194" opacity="0.7"/><rect x="363.6" y="162.75" width="2.6" height="1.1" fill="#d05040" opacity="0.85"/><rect x="367.3" y="162.75" width="14" height="1.05" fill="#7a8194" opacity="0.7"/><rect x="363.6" y="166.30" width="2.6" height="1.1" fill="#8a90a0" opacity="0.85"/><rect x="367.3" y="166.30" width="15" height="1.05" fill="#7a8194" opacity="0.7"/><rect x="363.6" y="169.85" width="2.6" height="1.1" fill="#4f7fd0" opacity="0.85"/><rect x="367.3" y="169.85" width="5" height="1.05" fill="#7a8194" opacity="0.7"/><rect x="363.6" y="173.40" width="2.6" height="1.1" fill="#4f7fd0" opacity="0.85"/><rect x="367.3" y="173.40" width="14" height="1.05" fill="#7a8194" opacity="0.7"/><rect x="363.6" y="176.95" width="2.6" height="1.1" fill="#8a90a0" opacity="0.85"/><rect x="367.3" y="176.95" width="15" height="1.05" fill="#7a8194" opacity="0.7"/><rect x="363.6" y="180.50" width="2.6" height="1.1" fill="#4f7fd0" opacity="0.85"/><rect x="367.3" y="180.50" width="14" height="1.05" fill="#7a8194" opacity="0.7"/><rect x="363.6" y="184.05" width="2.6" height="1.1" fill="#8a90a0" opacity="0.85"/><rect x="367.3" y="184.05" width="15" height="1.05" fill="#7a8194" opacity="0.7"/><rect x="363.6" y="187.60" width="2.6" height="1.1" fill="#4f7fd0" opacity="0.85"/><rect x="367.3" y="187.60" width="5" height="1.05" fill="#7a8194" opacity="0.7"/><rect x="363.6" y="191.15" width="2.6" height="1.1" fill="#4f7fd0" opacity="0.85"/><rect x="367.3" y="191.15" width="14" height="1.05" fill="#7a8194" opacity="0.7"/><rect x="363.6" y="194.70" width="2.6" height="1.1" fill="#8a90a0" opacity="0.85"/><rect x="367.3" y="194.70" width="9" height="1.05" fill="#7a8194" opacity="0.7"/><rect x="363.6" y="198.25" width="2.6" height="1.1" fill="#d9b040" opacity="0.85"/><rect x="367.3" y="198.25" width="12" height="1.05" fill="#7a8194" opacity="0.7"/><rect x="363.6" y="201.80" width="2.6" height="1.1" fill="#8a90a0" opacity="0.85"/><rect x="367.3" y="201.80" width="13" height="1.05" fill="#7a8194" opacity="0.7"/><rect x="363.6" y="205.35" width="2.6" height="1.1" fill="#d9b040" opacity="0.85"/><rect x="367.3" y="205.35" width="12" height="1.05" fill="#7a8194" opacity="0.7"/><rect x="386.6" y="121.6" width="2.7" height="90" fill="#e8eef6" opacity="0.7"/><rect x="180.2" y="211.5" width="209.10000000000002" height="2.5" fill="#f1f2f4"/></g></g>
<g><g filter="url(#b3)"><rect x="394.6" y="90.3" width="220.10000000000002" height="134.89999999999998" rx="1.2" fill="url(#bezW)"/><rect x="398.4" y="94.7" width="211.7" height="121.8" fill="#cccbc3"/><rect x="399.2" y="215.2" width="210.1" height="1.3" fill="#eeede8"/><rect x="399.5" y="95.8" width="209.5" height="119.39999999999999" fill="#fff"/><rect x="567.5" y="221.6" width="12" height="1.4" fill="#7e7d76" opacity="0.8"/><rect x="582.7" y="221.49999999999997" width="1.5" height="1.6" fill="#7e7d76" opacity="0.8"/><rect x="585.7" y="221.49999999999997" width="1.5" height="1.6" fill="#7e7d76" opacity="0.8"/><rect x="588.7" y="221.49999999999997" width="1.5" height="1.6" fill="#7e7d76" opacity="0.8"/></g><g filter="url(#b7)"><rect x="399.50" y="95.80" width="53.25" height="29.80" fill="#fff"/><svg x="404.97" y="95.80" width="42.32" height="29.80" viewBox="0 0 624 406" preserveAspectRatio="none" overflow="hidden"><rect x="-5" y="-5" width="700" height="420" fill="#fff"/><rect x="152" y="26" width="310" height="30" fill="#bfe9e0"/><path d="M172 36h7v9h-7zM182 37h13v10h-13zM198 36h9v11h-9zM211 35h10v11h-10zM224 36h13v9h-13zM244 37h11v9h-11zM257 37h10v9h-10zM270 35h14v11h-14zM286 37h11v10h-11zM304 36h10v10h-10zM316 36h7v9h-7zM326 35h5v12h-5zM338 36h14v10h-14zM360 35h8v11h-8zM372 36h10v11h-10zM385 35h4v10h-4zM391 35h12v12h-12zM406 36h5v11h-5zM412 38h11v9h-11zM426 37h8v9h-8zM436 37h8v9h-8z" fill="#1f7a78" opacity="0.75"/><path d="M174 88 V330 M174 323 L62 368 M174 323 H420" stroke="#8c8c8c" stroke-width="4" fill="none"/><path d="M197 99h7v13h-7zM206 98h14v16h-14zM223 99h10v15h-10zM235 98h14v13h-14zM254 99h13v11h-13zM270 99h15v14h-15zM288 102h6v11h-6zM297 99h10v13h-10zM310 100h11v13h-11zM324 99h14v14h-14z" fill="#404448" opacity="0.7"/><rect x="192" y="215" width="180" height="108" fill="#f3ecf6"/><path d="M192 215 V330 M372 215 V330" stroke="#b8a8c8" stroke-width="3" fill="none"/><path d="M187 222 Q186 150 280 138 Q372 148 374 222 Q280 248 187 222 Z" fill="url(#gAdome)" stroke="#a864a8" stroke-width="4"/><path d="M200 170 Q280 130 362 172" stroke="#8c4c9c" stroke-width="5" fill="none" opacity="0.7"/><rect x="287" y="150" width="66" height="190" fill="#bfd6f2" opacity="0.9"/><path d="M287 150 V340 M353 160 V340" stroke="#88a4d4" stroke-width="3"/><ellipse cx="280" cy="334" rx="88" ry="29" fill="#f3c82c" stroke="#e5a020" stroke-width="4"/><path d="M287 330 V362" stroke="#d06030" stroke-width="4"/><rect x="20" y="213" width="118" height="66" fill="#e79cc8"/><path d="M30 226h5v12h-5zM44 225h13v13h-13zM60 224h13v13h-13zM77 225h15v12h-15zM94 226h9v10h-9zM113 227h13v11h-13zM127 224h3v13h-3z" fill="#b0307c" opacity="0.7"/><path d="M30 250h11v13h-11zM51 253h7v11h-7zM62 250h6v11h-6zM71 251h11v13h-11zM86 251h5v12h-5zM93 251h12v12h-12zM109 252h9v12h-9zM123 250h7v11h-7z" fill="#b0307c" opacity="0.7"/><rect x="427" y="200" width="126" height="77" fill="#e79cc8"/><path d="M438 214h12v15h-12zM454 216h10v13h-10zM474 215h7v12h-7zM487 217h7v12h-7zM496 214h11v14h-11zM509 214h6v11h-6zM519 215h12v13h-12zM533 217h7v11h-7z" fill="#b0307c" opacity="0.7"/><path d="M438 246h8v13h-8zM450 248h13v12h-13zM476 246h9v15h-9zM488 246h13v14h-13zM506 247h10v14h-10zM520 249h4v11h-4zM528 249h14v12h-14z" fill="#b0307c" opacity="0.7"/><path d="M138 240 L192 232 M427 232 L372 250 M372 300 L410 308 L430 322" stroke="#9a9a9a" stroke-width="3" fill="none"/><path d="M372 298 L412 312 L428 330" stroke="#e06030" stroke-width="3" fill="none"/><path d="M430 314h10v12h-10zM448 312h11v15h-11zM462 313h13v15h-13zM477 312h5v12h-5zM484 313h5v11h-5zM492 315h4v12h-4zM500 312h14v15h-14zM518 315h7v12h-7zM534 313h13v12h-13z" fill="#2a8484" opacity="0.8"/><path d="M430 347h5v14h-5zM437 347h11v14h-11zM452 346h6v16h-6zM460 347h11v13h-11zM475 346h10v16h-10zM494 346h6v14h-6zM502 347h12v11h-12zM517 346h12v16h-12zM532 347h4v14h-4zM538 346h10v15h-10z" fill="#2a8484" opacity="0.8"/><path d="M112 367h14v7h-14zM130 367h14v8h-14zM154 367h6v8h-6zM163 367h6v8h-6zM172 367h11v7h-11z" fill="#505050" opacity="0.6"/><path d="M332 371h12v8h-12zM346 371h14v8h-14zM363 370h11v7h-11zM378 370h6v9h-6zM388 370h7v9h-7zM398 371h12v8h-12z" fill="#505050" opacity="0.6"/></svg><rect x="452.75" y="95.80" width="51.85" height="29.80" fill="#fff"/><svg x="457.52" y="95.80" width="42.32" height="29.80" viewBox="0 0 625 406" preserveAspectRatio="none" overflow="hidden"><rect x="-5" y="-5" width="700" height="420" fill="#fff"/><rect x="180" y="4" width="256" height="32" fill="#d6f0c6"/><path d="M195 12h7v14h-7zM205 12h8v11h-8zM216 13h6v13h-6zM225 13h13v10h-13zM248 12h5v11h-5zM255 12h12v13h-12zM276 14h11v11h-11zM291 12h8v14h-8zM301 12h8v12h-8zM312 14h12v11h-12zM326 13h7v12h-7zM336 14h15v12h-15zM353 14h7v10h-7zM364 12h14v10h-14zM380 12h15v13h-15zM404 15h4v11h-4zM412 12h4v13h-4zM418 12h7v11h-7z" fill="#2c5c30" opacity="0.8"/><path d="M287 48 V270" stroke="#707478" stroke-width="4"/><path d="M318 90h5v10h-5zM327 88h11v14h-11zM341 91h10v11h-10zM361 88h13v13h-13zM377 88h7v13h-7zM388 89h13v11h-13zM405 88h4v10h-4zM412 88h11v10h-11zM433 89h7v12h-7z" fill="#404448" opacity="0.7"/><path d="M166 140 Q200 215 268 232 L300 236 Q360 225 404 140 Q285 180 166 140 Z" fill="url(#gBbody)"/><ellipse cx="285" cy="138" rx="120" ry="30" fill="url(#gBrim)"/><path d="M360 176 L448 168 L418 210 L352 228 Z" fill="#e8f2c0" opacity="0.7" stroke="#7c682c" stroke-width="4"/><path d="M356 176 V300" stroke="#60308c" stroke-width="6"/><path d="M310 208 V270" stroke="#38342c" stroke-width="5"/><path d="M175 300 L316 228 M316 268 L356 298 M150 236 L380 236 L470 236" stroke="#b0a060" stroke-width="3" fill="none" opacity="0.8"/><path d="M175 300 L310 232" stroke="#d8b050" stroke-width="4"/><path d="M140 239h11v9h-11zM154 238h6v9h-6zM165 236h12v11h-12zM180 236h8v10h-8z" fill="#404040" opacity="0.7"/><path d="M250 286h5v11h-5zM258 287h13v10h-13zM274 289h7v9h-7zM286 286h5v11h-5zM294 288h2v10h-2z" fill="#404040" opacity="0.7"/><path d="M462 186h5v11h-5zM478 188h10v10h-10zM492 187h4v11h-4zM499 186h6v10h-6zM508 188h12v9h-12z" fill="#404040" opacity="0.7"/><path d="M345 322h5v11h-5zM354 323h12v9h-12zM370 322h13v9h-13zM387 323h11v10h-11zM399 322h5v10h-5zM416 323h10v9h-10zM430 322h15v11h-15zM448 322h2v11h-2z" fill="#505050" opacity="0.6"/><rect x="25" y="338" width="570" height="40" fill="#def0bc"/><path d="M36 349h13v16h-13zM51 353h12v13h-12zM64 349h13v17h-13zM79 349h7v15h-7zM88 349h6v16h-6zM96 348h6v17h-6zM105 349h5v16h-5zM113 350h14v13h-14zM129 353h9v13h-9zM140 349h8v16h-8zM150 349h14v14h-14zM167 348h12v13h-12zM181 349h5v15h-5zM191 350h5v16h-5zM198 348h13v14h-13zM213 349h8v13h-8zM228 349h8v15h-8zM238 348h6v15h-6zM246 351h10v13h-10zM258 348h10v17h-10zM270 348h15v18h-15zM286 348h9v17h-9zM297 349h10v17h-10zM310 351h8v14h-8zM321 352h8v14h-8zM331 350h15v13h-15zM354 349h7v16h-7zM364 348h14v18h-14zM380 351h7v14h-7zM389 350h7v14h-7zM401 348h5v17h-5zM408 348h7v16h-7zM417 348h5v18h-5zM424 349h6v16h-6zM432 348h9v17h-9zM444 349h15v15h-15zM461 350h10v13h-10zM472 351h13v14h-13zM488 348h11v17h-11zM504 350h12v16h-12zM518 350h9v13h-9zM529 349h5v13h-5zM537 350h7v16h-7zM545 351h11v14h-11zM559 351h5v13h-5zM566 349h5v16h-5zM572 348h13v18h-13z" fill="#47561c" opacity="0.7"/><rect x="125" y="384" width="370" height="20" fill="#cfe3f2"/><path d="M135 389h13v9h-13zM151 389h10v8h-10zM164 389h12v8h-12zM179 390h11v9h-11zM200 389h12v10h-12zM215 389h10v8h-10zM229 389h13v9h-13zM244 389h9v9h-9zM256 390h6v8h-6zM264 391h10v8h-10zM276 390h7v9h-7zM286 390h5v8h-5zM295 389h8v8h-8zM307 390h11v9h-11zM321 390h6v9h-6zM328 389h11v7h-11zM342 390h12v7h-12zM356 390h13v7h-13zM371 391h4v8h-4zM384 391h14v8h-14zM400 389h15v9h-15zM417 391h7v8h-7zM428 389h8v9h-8zM442 390h8v9h-8zM457 391h14v8h-14zM474 390h9v9h-9z" fill="#3868b0" opacity="0.7"/></svg><rect x="399.50" y="125.60" width="53.25" height="30.00" fill="#fff"/><svg x="404.82" y="125.60" width="42.60" height="30.00" viewBox="0 0 624 404" preserveAspectRatio="none" overflow="hidden"><rect x="-5" y="-5" width="700" height="420" fill="#fff"/><path d="M192 22 V235" stroke="#8c9098" stroke-width="4"/><path d="M52 318 L165 240 M337 222 Q400 215 440 235 Q420 250 380 246" stroke="#9a9ca4" stroke-width="3.5" fill="none"/><path d="M122 262 Q120 190 150 150 Q175 118 205 115 Q250 108 290 140 Q330 180 338 222 Q330 250 285 274 Q240 290 205 282 Q150 275 122 262 Z" fill="url(#gCb)"/><path d="M150 135 L335 224 M264 110 L212 276 M160 190 L290 262" stroke="#d2461c" stroke-width="6" fill="none" opacity="0.85"/><path d="M290 62 L118 375 M108 352 L118 378 L140 362" stroke="#4a62c4" stroke-width="5" fill="none"/><path d="M128 100 L215 175" stroke="#8aa0d8" stroke-width="3"/><path d="M342 109h7v16h-7zM353 108h8v16h-8zM375 108h12v18h-12zM391 108h11v18h-11zM414 109h5v17h-5zM423 110h7v13h-7zM435 109h13v14h-13zM460 108h12v16h-12zM476 108h13v18h-13zM495 109h9v17h-9zM509 109h4v14h-4zM515 108h10v15h-10zM540 109h10v16h-10zM553 108h12v18h-12zM579 110h15v13h-15zM599 110h3v13h-3z" fill="#30343c" opacity="0.72"/><path d="M197 335h13v14h-13zM213 335h10v13h-10zM227 335h12v11h-12zM242 334h5v15h-5zM250 334h7v14h-7zM262 335h5v13h-5zM282 334h11v15h-11zM298 334h14v13h-14zM315 337h13v12h-13zM333 335h13v12h-13zM359 336h12v13h-12zM376 335h4v14h-4zM385 336h5v11h-5zM394 335h15v14h-15zM413 335h13v13h-13zM430 335h5v14h-5zM439 336h10v13h-10z" fill="#484c54" opacity="0.6"/><path d="M415 227h6v13h-6zM423 226h10v14h-10z" fill="#404040" opacity="0.6"/></svg><rect x="452.75" y="125.60" width="51.85" height="30.00" fill="#fff"/><svg x="457.38" y="125.60" width="42.60" height="30.00" viewBox="0 0 625 404" preserveAspectRatio="none" overflow="hidden"><rect x="-5" y="-5" width="700" height="420" fill="#fff"/><path d="M20 30 L95 18 L245 32 L245 200 L155 190 M95 18 V60 M20 30 V160 L50 190 L155 190" stroke="#9aa0a8" stroke-width="3" fill="none"/><path d="M50 200 L120 170 L200 178 L130 196 Z" fill="#68c8b8" opacity="0.75"/><path d="M100 15 V175" stroke="#1c2c34" stroke-width="7"/><path d="M25 62 L98 38 M102 132 Q160 150 218 168" stroke="#d83a30" stroke-width="7" fill="none"/><path d="M25 72 L120 125 L218 168" stroke="#3848b8" stroke-width="6" fill="none"/><circle cx="100" cy="30" r="7" fill="#202428"/><circle cx="220" cy="168" r="6" fill="#202428"/><circle cx="100" cy="160" r="7" fill="#186c68"/><path d="M18 135h12v12h-12zM34 136h6v10h-6z" fill="#404040" opacity="0.7"/><path d="M425 22 L318 158 L400 200 L520 218 L605 178 Z" fill="#fff" stroke="#30343c" stroke-width="3.5"/><path d="M425 22 L400 200 M425 22 L520 218 M425 22 L470 140 L605 178 M318 158 L470 140 M470 140 L520 218" stroke="#30343c" stroke-width="3.5" fill="none"/><path d="M425 24 L325 152 M605 180 L535 210" stroke="#e04038" stroke-width="7" fill="none"/><path d="M318 162 L480 178 L560 172" stroke="#3c50c0" stroke-width="6" fill="none"/><circle cx="425" cy="24" r="7" fill="#202428"/><circle cx="470" cy="140" r="6" fill="#202428"/><circle cx="320" cy="160" r="6" fill="#a03070"/><circle cx="604" cy="178" r="6" fill="#c03040"/><path d="M350 86h11v9h-11zM364 85h8v10h-8z" fill="#404040" opacity="0.7"/><path d="M520 81h4v8h-4zM528 81h10v9h-10zM542 81h3v9h-3z" fill="#404040" opacity="0.7"/><path d="M16 244h16v25h-16zM40 245h24v25h-24zM75 245h17v22h-17zM95 245h13v25h-13zM112 250h17v19h-17zM131 245h14v24h-14zM147 248h19v19h-19zM176 244h23v25h-23zM202 247h15v20h-15zM220 245h8v24h-8z" fill="#101010" opacity="0.85"/><path d="M16 278h10v14h-10zM38 279h5v12h-5zM47 278h9v14h-9zM61 281h12v11h-12zM78 281h6v11h-6zM94 278h9v16h-9zM105 280h11v13h-11zM122 280h13v13h-13zM137 281h6v12h-6zM146 278h9v13h-9zM170 278h7v14h-7zM180 281h8v11h-8zM193 279h11v14h-11z" fill="#202020" opacity="0.7"/><path d="M16 305h14v12h-14zM43 305h7v13h-7zM54 306h11v12h-11zM69 305h13v12h-13zM87 304h13v14h-13zM104 307h14v11h-14zM121 305h5v11h-5zM131 305h13v11h-13zM147 305h14v13h-14zM166 305h10v10h-10zM179 308h11v10h-11z" fill="#303030" opacity="0.65"/><path d="M20 345 L75 328 L140 350 M30 372 L100 352 L150 368 M20 388 L110 384" stroke="#50545c" stroke-width="3" fill="none" opacity="0.7"/><path d="M332 248h11v10h-11zM348 250h14v8h-14zM366 249h11v7h-11zM393 250h14v7h-14zM411 248h13v9h-13zM428 249h13v8h-13zM445 248h5v9h-5zM455 248h7v8h-7zM476 249h9v9h-9zM490 249h5v8h-5zM502 249h3v8h-3z" fill="#50545c" opacity="0.55"/><path d="M336 288h26v22h-26zM365 289h21v22h-21zM388 287h21v24h-21zM411 286h29v26h-29zM442 282h25v29h-25zM476 284h24v22h-24zM503 285h15v24h-15zM521 287h14v24h-14zM537 284h26v22h-26zM566 285h9v22h-9z" fill="#101010" opacity="0.85"/><path d="M336 322h14v9h-14zM353 322h7v10h-7z" fill="#303030" opacity="0.7"/></svg><path d="M452.75 95.8 V155.6 M399.5 125.6 H504.6" stroke="#c8d4e4" stroke-width="0.5" fill="none"/><rect x="504.60" y="95.80" width="52.10" height="29.80" fill="#f5eec6"/><svg x="509.49" y="95.80" width="42.32" height="29.80" viewBox="0 0 633 406" preserveAspectRatio="none" overflow="hidden"><rect x="-5" y="-5" width="700" height="420" fill="#f5eec6"/><path d="M248 88 V275 L118 372 M248 275 H580" stroke="#9a9488" stroke-width="3" fill="none"/><path d="M278 278 L528 394" stroke="#e86040" stroke-width="3.5"/><path d="M200 152 L352 48 L455 52 L586 154 L484 194 L408 236 L294 194 Z" fill="url(#gEh)"/><path d="M306 150 Q420 88 552 146 Q486 202 408 230 Q345 202 306 150 Z" fill="url(#gEi)"/><path d="M340 150 Q400 128 470 160" stroke="#e8a070" stroke-width="3" fill="none" opacity="0.8"/><path d="M292 70 L312 64 L468 138 L468 364 L298 280 Z" fill="url(#gEp)"/><path d="M292 70 L298 280 M468 138 V364" stroke="#3894d8" stroke-width="3" fill="none"/><path d="M408 238 V330" stroke="#183c6c" stroke-width="5"/><path d="M300 110 Q390 120 466 180" stroke="#c8e4f8" stroke-width="3" fill="none" opacity="0.8"/><path d="M38 81h9v13h-9zM49 82h13v14h-13zM67 81h4v13h-4zM73 80h8v16h-8zM85 82h10v14h-10zM98 80h12v15h-12zM116 80h4v15h-4z" fill="#282420" opacity="0.75"/><path d="M38 132h14v16h-14zM55 131h7v16h-7zM77 130h12v16h-12zM92 130h8v15h-8zM111 130h12v15h-12zM136 131h4v15h-4zM145 130h14v16h-14z" fill="#282420" opacity="0.75"/><path d="M33 179h4v11h-4zM39 178h6v12h-6zM49 179h14v10h-14zM65 178h10v11h-10zM78 178h9v11h-9zM91 180h12v9h-12zM105 180h13v10h-13zM121 178h6v11h-6zM129 180h5v9h-5zM138 180h15v9h-15zM156 178h14v10h-14zM172 178h11v10h-11zM185 178h11v10h-11zM199 179h13v10h-13zM214 179h5v10h-5z" fill="#282420" opacity="0.7"/><path d="M90 211h11v13h-11zM105 211h6v14h-6zM115 211h14v13h-14zM140 210h12v15h-12zM154 210h5v14h-5zM163 211h6v12h-6zM172 210h5v15h-5zM180 212h14v13h-14zM196 212h9v11h-9z" fill="#282420" opacity="0.7"/><path d="M28 220h11v9h-11zM43 217h10v10h-10zM56 216h15v12h-15zM72 216h9v11h-9zM84 216h4v13h-4z" fill="#e04830" opacity="0.8"/><path d="M28 259h9v11h-9zM40 260h10v11h-10zM54 258h5v11h-5zM63 258h11v13h-11zM80 261h7v9h-7zM103 261h4v10h-4zM111 258h8v13h-8zM121 259h14v11h-14zM139 258h6v12h-6zM150 259h5v11h-5zM161 258h8v12h-8zM173 260h5v10h-5zM183 258h7v13h-7z" fill="#e85a40" opacity="0.75"/><path d="M528 84h5v6h-5zM545 85h7v7h-7zM556 85h10v7h-10zM570 86h13v7h-13z" fill="#c8c040" opacity="0.7"/><path d="M120 358h5v9h-5zM128 358h6v10h-6z" fill="#605848" opacity="0.6"/><path d="M310 341h9v9h-9zM321 342h9v7h-9z" fill="#605848" opacity="0.6"/></svg><rect x="556.70" y="95.80" width="52.30" height="29.80" fill="#fff"/><svg x="561.69" y="95.80" width="42.32" height="29.80" viewBox="0 0 620 406" preserveAspectRatio="none" overflow="hidden"><rect x="-5" y="-5" width="700" height="420" fill="#fff"/><path d="M336 8 V40" stroke="#30343c" stroke-width="5"/><path d="M258 238 L78 338 M378 228 L558 378" stroke="#b8bcc4" stroke-width="3" fill="none"/><path d="M193 173 L278 38 L338 33 L498 118 L398 168 L368 238 L278 203 Z" fill="url(#gFg)"/><path d="M268 33 L293 28 L378 118 L373 153 L328 118 Z" fill="#62b2ea" opacity="0.9"/><path d="M268 208 L348 238 L368 283 L278 238 Z" fill="#6cb8ec" opacity="0.9"/><path d="M273 33 L528 373" stroke="#a2449a" stroke-width="8" opacity="0.9"/><path d="M283 45 L420 228" stroke="#d84848" stroke-width="3.5" opacity="0.8"/><circle cx="520" cy="362" r="12" fill="#e04848" opacity="0.85"/><path d="M498 268h12v12h-12zM514 270h13v10h-13zM532 268h6v12h-6z" fill="#30343c" opacity="0.75"/><path d="M303 284h12v8h-12zM326 285h12v7h-12z" fill="#50545c" opacity="0.6"/><path d="M470 71h9v7h-9zM482 71h9v6h-9zM494 71h6v6h-6z" fill="#a0b0a0" opacity="0.6"/><path d="M68 332h7v8h-7zM79 333h5v8h-5z" fill="#909498" opacity="0.6"/><path d="M290 115h5v8h-5zM306 115h4v9h-4z" fill="#404448" opacity="0.6"/></svg><rect x="504.60" y="125.60" width="52.10" height="30.00" fill="#fff"/><svg x="509.35" y="125.60" width="42.60" height="30.00" viewBox="0 0 633 404" preserveAspectRatio="none" overflow="hidden"><rect x="-5" y="-5" width="700" height="420" fill="#fff"/><path d="M82 110 V282 L300 372 L598 308 L598 140 M82 282 L380 232 L598 308 M380 232 V70 M82 180 L380 130 L598 200 M82 230 L380 180 L598 255" stroke="#d4d6da" stroke-width="2.5" fill="none"/><path d="M60 281h6v7h-6zM69 281h7v6h-7z" fill="#a0a4a8" opacity="0.6"/><path d="M180 337h10v6h-10zM193 337h3v7h-3z" fill="#a0a4a8" opacity="0.6"/><path d="M290 378h9v8h-9zM301 379h5v6h-5z" fill="#a0a4a8" opacity="0.6"/><path d="M450 345h13v7h-13z" fill="#a0a4a8" opacity="0.6"/><path d="M268 200 Q300 215 330 254 Q345 262 362 252 Q395 212 420 196 Q340 190 268 200 Z" fill="url(#gGu)"/><path d="M86 112 Q215 128 363 47 Q460 120 570 132 Q470 175 420 196 Q350 215 308 197 Q290 195 268 200 Q170 170 86 112 Z" fill="url(#gGs)"/><g clip-path="url(#gGc)"><ellipse cx="92" cy="112" rx="95" ry="50" fill="url(#gGr)"/><ellipse cx="363" cy="50" rx="90" ry="55" fill="url(#gGr)"/><ellipse cx="566" cy="130" rx="95" ry="50" fill="url(#gGr)"/><ellipse cx="316" cy="200" rx="50" ry="14" fill="url(#gGr)"/></g></svg><rect x="556.70" y="125.60" width="52.30" height="30.00" fill="#fff"/><svg x="561.55" y="125.60" width="42.60" height="30.00" viewBox="0 0 620 404" preserveAspectRatio="none" overflow="hidden"><rect x="-5" y="-5" width="700" height="420" fill="#fff"/><path d="M38 150 V272 L428 382 L598 182 M38 272 L258 60 M598 182 V85" stroke="#c8ccd2" stroke-width="2.5" fill="none"/><rect x="22" y="160" width="10" height="5" fill="#70747c" opacity="0.7"/><rect x="22" y="186" width="10" height="5" fill="#70747c" opacity="0.7"/><rect x="22" y="212" width="10" height="5" fill="#70747c" opacity="0.7"/><rect x="22" y="238" width="10" height="5" fill="#70747c" opacity="0.7"/><rect x="22" y="264" width="10" height="5" fill="#70747c" opacity="0.7"/><rect x="60" y="288" width="10" height="6" fill="#70747c" opacity="0.7"/><rect x="470" y="350" width="10" height="6" fill="#70747c" opacity="0.7"/><rect x="150" y="314" width="10" height="6" fill="#70747c" opacity="0.7"/><rect x="508" y="304" width="10" height="6" fill="#70747c" opacity="0.7"/><rect x="240" y="340" width="10" height="6" fill="#70747c" opacity="0.7"/><rect x="546" y="258" width="10" height="6" fill="#70747c" opacity="0.7"/><rect x="330" y="366" width="10" height="6" fill="#70747c" opacity="0.7"/><rect x="584" y="212" width="10" height="6" fill="#70747c" opacity="0.7"/><path d="M28 147 Q150 95 258 17 Q420 75 588 82 Q560 170 518 222 Q440 270 338 277 Q250 270 188 242 Q100 205 28 147 Z" fill="url(#gHs)"/><path d="M28 147 Q150 95 258 17 Q420 75 588 82 Q560 170 518 222 Q440 270 338 277 Q250 270 188 242 Q100 205 28 147 Z" fill="url(#gHb)"/><path d="M47 136 Q114 239 221 252 M54 158 Q190 120 286 22 M66 125 Q140 236 255 258 M80 169 Q216 128 313 28 M86 114 Q167 232 288 259 M106 180 Q243 136 340 33 M105 104 Q193 225 321 256 M131 190 Q270 144 368 39 M124 93 Q219 216 355 249 M157 201 Q296 153 396 44 M143 82 Q246 205 388 238 M183 212 Q323 161 423 50 M162 71 Q272 192 421 223 M209 223 Q350 169 450 55 M181 60 Q298 177 455 203 M235 234 Q376 177 478 60 M200 50 Q324 159 488 179 M260 244 Q403 185 506 66 M220 39 Q350 140 521 151 M286 255 Q430 193 533 71 M239 28 Q377 118 555 119 M312 266 Q456 201 560 77 " stroke="#28305c" stroke-width="1.3" fill="none" opacity="0.32"/></svg><path d="M556.7 95.8 V155.6 M504.6 125.6 H609" stroke="#c8d4e4" stroke-width="0.5" fill="none"/><rect x="399.50" y="155.60" width="53.25" height="29.80" fill="#fff"/><svg x="399.50" y="155.60" width="53.25" height="29.80" viewBox="0 0 385 214" preserveAspectRatio="none" overflow="hidden"><rect x="-5" y="-5" width="400" height="230" fill="#dadbdc"/><polygon points="32,62 208,18 368,62 368,150 208,200 32,150" fill="#fff"/><path d="M32 62 L208 100 L368 62 M208 100 V200 M32 106 L208 146 L368 106" stroke="#e0e2e6" stroke-width="2" fill="none"/><path d="M150 160 Q210 190 270 160 Q210 176 150 160 Z" fill="#3c78d4"/><path d="M74 74 Q120 112 150 112 Q190 104 216 58 Q246 104 280 112 Q310 108 336 84 Q316 128 262 166 Q212 186 160 164 Q104 128 74 74 Z" fill="url(#gIs)"/><g clip-path="url(#gIc)"><ellipse cx="78" cy="78" rx="40" ry="30" fill="url(#gIr)"/><ellipse cx="216" cy="62" rx="30" ry="30" fill="url(#gIr)"/><ellipse cx="334" cy="86" rx="40" ry="30" fill="url(#gIr)"/></g><path d="M178 130 Q188 108 198 130 Q188 136 178 130 Z" fill="#f4b050"/><path d="M170 168 Q210 182 250 168 Q210 176 170 168 Z" fill="#6fb0e8"/><path d="M12 60h7v5h-7z" fill="#9a9ea4" opacity="0.7"/><path d="M12 101h5v4h-5zM20 100h4v5h-4z" fill="#9a9ea4" opacity="0.7"/><path d="M12 140h5v6h-5zM19 140h5v5h-5z" fill="#9a9ea4" opacity="0.7"/><path d="M90 178h14v6h-14z" fill="#9a9ea4" opacity="0.7"/><path d="M280 187h15v4h-15z" fill="#9a9ea4" opacity="0.7"/></svg><rect x="452.75" y="155.60" width="51.85" height="29.80" fill="#fff"/><svg x="452.75" y="155.60" width="51.85" height="29.80" viewBox="0 0 385 214" preserveAspectRatio="none" overflow="hidden"><rect x="-5" y="-5" width="400" height="230" fill="#dadbdc"/><polygon points="30,62 200,18 378,62 378,152 200,200 30,150" fill="#fff"/><path d="M30 62 L200 100 L378 62 M200 100 V200" stroke="#e4e6ea" stroke-width="2" fill="none"/><path d="M46 114 Q100 90 150 78 L296 112 Q250 140 190 156 Q110 138 46 114 Z" fill="url(#gJs)"/><path d="M112 92 Q124 36 140 34 Q156 38 168 96 Q140 108 112 92 Z" fill="url(#gJp)"/><path d="M160 100 Q175 76 192 98 Q206 84 222 106 Q190 120 160 100 Z" fill="#8ccc70"/><path d="M166 98 Q176 82 190 98 Z" fill="#e8d860" opacity="0.85"/><path d="M190 130 Q210 118 232 130 Q222 160 210 162 Q198 158 190 130 Z" fill="#2a62c4"/><path d="M196 132 Q210 126 226 132 Q210 140 196 132 Z" fill="#58b8d8"/><path d="M8 40h6v6h-6z" fill="#9a9ea4" opacity="0.7"/><path d="M8 150h5v5h-5z" fill="#9a9ea4" opacity="0.7"/></svg><rect x="399.50" y="185.40" width="53.25" height="29.80" fill="#fff"/><svg x="399.50" y="185.40" width="53.25" height="29.80" viewBox="0 0 385 214" preserveAspectRatio="none" overflow="hidden"><rect x="-5" y="-5" width="400" height="230" fill="#dadbdc"/><rect x="0" y="0" width="385" height="214" fill="none" stroke="#9cbce0" stroke-width="5"/><polygon points="48,62 205,20 350,62 350,214 48,214" fill="#fff"/><path d="M48 112 Q120 92 172 98 L238 98 Q300 92 350 112 V214 H48 Z" fill="url(#gKs)"/><path d="M178 112 Q184 52 205 48 Q226 52 232 112 Z" fill="url(#gKp)"/><rect x="354" y="8" width="28" height="130" fill="#fff"/><rect x="358" y="30" width="18" height="5" fill="#b8d0e8"/><rect x="358" y="55" width="18" height="6" fill="#e8d080"/><rect x="358" y="72" width="18" height="7" fill="#f09040"/><rect x="358" y="92" width="18" height="5" fill="#c8c8d0"/><rect x="358" y="112" width="18" height="5" fill="#b8d0e8"/><path d="M26 81h5v5h-5zM35 80h5v6h-5z" fill="#9a9ea4" opacity="0.7"/></svg><rect x="452.75" y="185.40" width="51.85" height="29.80" fill="#fff"/><svg x="452.75" y="185.40" width="51.85" height="29.80" viewBox="0 0 385 214" preserveAspectRatio="none" overflow="hidden"><rect x="-5" y="-5" width="400" height="230" fill="#fff"/><path d="M42 30 V150 L170 196 L300 150 M42 150 L150 118" stroke="#d8dade" stroke-width="2" fill="none"/><path d="M52 98 Q100 80 118 62 Q132 38 146 40 Q160 44 168 80 Q186 60 206 66 Q230 80 278 112 Q240 136 196 150 Q178 124 160 138 Q140 146 120 132 Q80 120 52 98 Z" fill="url(#gLs)"/><path d="M52 98 Q80 120 120 132 Q100 112 52 98 Z" fill="#48b0a0" opacity="0.8"/><path d="M196 150 Q240 136 278 112 Q262 116 230 128 Q210 136 196 150 Z" fill="#58c8b8" opacity="0.85"/><path d="M152 118 Q165 104 182 120 Q170 134 152 118 Z" fill="#3aa0c8" opacity="0.8"/><path d="M128 60 Q146 30 162 70 Q146 62 128 60 Z" fill="#06103c" opacity="0.9"/><rect x="312" y="12" width="30" height="180" fill="url(#jet)"/><path d="M24 50h8v5h-8z" fill="#9a9ea4" opacity="0.6"/><path d="M24 100h5v5h-5z" fill="#9a9ea4" opacity="0.6"/></svg><path d="M452.75 155.6 V215.2 M399.5 185.4 H504.6" stroke="#c8ccd4" stroke-width="0.5" fill="none"/><rect x="504.60" y="155.60" width="52.10" height="29.80" fill="#fff"/><svg x="504.60" y="155.60" width="52.10" height="29.80" viewBox="0 0 385 214" preserveAspectRatio="none" overflow="hidden"><rect x="-5" y="-5" width="400" height="230" fill="#fff"/><path d="M0 124 H385" stroke="#b8bcc4" stroke-width="2"/><ellipse cx="186" cy="124" rx="140" ry="64" fill="#f6efa2" stroke="#b8b060" stroke-width="2.5"/><path d="M186 60 Q140 124 186 188 M46 124 Q186 168 326 124" stroke="#8c8850" stroke-width="2" fill="none" opacity="0.8"/><path d="M186 8 V212" stroke="#282c30" stroke-width="4"/><path d="M104 203 L168 152" stroke="#404448" stroke-width="3"/><rect x="340" y="108" width="12" height="22" fill="#30343c" opacity="0.85"/><rect x="196" y="6" width="10" height="12" fill="#30343c" opacity="0.8"/><rect x="196" y="108" width="10" height="10" fill="#404448" opacity="0.7"/><rect x="150" y="152" width="10" height="10" fill="#404448" opacity="0.7"/><rect x="104" y="196" width="14" height="9" fill="#404448" opacity="0.7"/></svg><rect x="556.70" y="155.60" width="52.30" height="29.80" fill="#fff"/><svg x="557.70" y="155.60" width="33.00" height="29.80" viewBox="0 0 385 214" preserveAspectRatio="none" overflow="hidden"><rect x="-5" y="-5" width="400" height="230" fill="#fff"/><path d="M60 138 H360" stroke="#30343c" stroke-width="4"/><path d="M40 134 L62 134 L51 148 Z" fill="#202428"/><path d="M112 112 L178 62 L300 62 L338 138 M112 112 L112 138 M178 62 L150 138" stroke="#202428" stroke-width="6" fill="none"/><path d="M215 70 V138 M245 66 V138" stroke="#202428" stroke-width="7"/><rect x="205" y="96" width="46" height="40" fill="#404448" opacity="0.8"/><path d="M92 40 H290 L330 20 M92 40 V120 M290 40 V62 M150 138 L200 178 L290 170 L338 138" stroke="#70747c" stroke-width="2.5" fill="none" stroke-dasharray="8 5"/><path d="M318 10 V60" stroke="#30343c" stroke-width="3"/><rect x="300" y="4" width="14" height="10" fill="#30343c" opacity="0.8"/><rect x="352" y="126" width="22" height="12" fill="#202428" opacity="0.85"/></svg><rect x="504.60" y="185.40" width="52.10" height="29.80" fill="#fff"/><svg x="504.60" y="185.40" width="52.10" height="29.80" viewBox="0 0 385 214" preserveAspectRatio="none" overflow="hidden"><rect x="-5" y="-5" width="400" height="230" fill="#fff"/><path d="M108 52h7v7h-7zM122 52h6v8h-6zM136 52h15v6h-15z" fill="#70747c" opacity="0.7"/><rect x="156" y="44" width="6" height="24" fill="#e04838" opacity="0.8"/><rect x="164" y="42" width="8" height="7" fill="#4060c0" opacity="0.7"/><rect x="164" y="62" width="8" height="7" fill="#e04838" opacity="0.7"/><path d="M182 53h11v6h-11zM198 53h2v7h-2z" fill="#70747c" opacity="0.7"/><path d="M70 100 L92 116 M120 92 L132 112 M186 88 L186 108 M246 92 L236 112 M296 100 L276 116" stroke="#f0a898" stroke-width="3" fill="none" opacity="0.8"/></svg><rect x="556.70" y="185.40" width="52.30" height="29.80" fill="#fff"/><svg x="557.70" y="185.40" width="33.00" height="29.80" viewBox="0 0 385 214" preserveAspectRatio="none" overflow="hidden"><rect x="-5" y="-5" width="400" height="230" fill="#fff"/><path d="M90 10 V205" stroke="#e2e4ea" stroke-width="2"/><path d="M150 10 V205" stroke="#e2e4ea" stroke-width="2"/><path d="M210 10 V205" stroke="#e2e4ea" stroke-width="2"/><path d="M270 10 V205" stroke="#e2e4ea" stroke-width="2"/><path d="M330 10 V205" stroke="#e2e4ea" stroke-width="2"/><path d="M20 50 H370" stroke="#e2e4ea" stroke-width="2"/><path d="M20 100 H370" stroke="#e2e4ea" stroke-width="2"/><path d="M20 150 H370" stroke="#e2e4ea" stroke-width="2"/><path d="M40 196 Q120 170 180 120 Q230 70 290 60 Q330 40 360 16" stroke="#b06890" stroke-width="3" fill="none" opacity="0.85"/><path d="M40 20 Q90 90 150 150 Q210 196 250 200" stroke="#d88080" stroke-width="2.5" fill="none" opacity="0.7"/><path d="M50 200 Q150 150 200 110 Q260 60 280 14 M200 110 Q280 90 350 100 M280 62 Q320 90 350 60" stroke="#8c7090" stroke-width="2.5" fill="none" opacity="0.8"/><path d="M180 10 Q200 60 286 62" stroke="#70747c" stroke-width="2" fill="none" opacity="0.7"/><circle cx="286" cy="62" r="6" fill="#604868" opacity="0.8"/><circle cx="60" cy="192" r="5" fill="#404448" opacity="0.7"/><path d="M40 204h12v4h-12zM60 204h10v5h-10z" fill="#70747c" opacity="0.6"/><path d="M210 206h9v4h-9zM223 206h11v4h-11zM236 207h4v4h-4z" fill="#70747c" opacity="0.6"/></svg><path d="M556.7 155.6 V215.2 M504.6 185.4 H609" stroke="#c8d4e4" stroke-width="0.5" fill="none"/><path d="M504.6 95.8 V215.2 M399.5 155.6 H609" stroke="#b0b4bc" stroke-width="0.7" fill="none"/></g><g filter="url(#b3)"><rect x="591.2" y="95.8" width="17.799999999999955" height="119.39999999999999" fill="#fafcfe"/><rect x="591.2" y="95.8" width="17.799999999999955" height="10.2" fill="url(#sbh)"/><path d="M592.2 102.38919999999999 L595.6782000000001 99.472 L597.8100000000001 100.0024 L597.249 104.776 L593.883 104.776 Z" fill="#b3222f"/><rect x="599.0100000000001" y="99.268" width="8.789999999999955" height="1.734" fill="#d8ebfa" opacity="0.8"/><rect x="599.0100000000001" y="102.532" width="8.789999999999955" height="1.734" fill="#d8ebfa" opacity="0.8"/><rect x="591.2" y="207.0" width="17.799999999999955" height="8.2" fill="#62b5ec"/><rect x="593.7" y="209.296" width="12.799999999999955" height="1.3119999999999998" fill="#e4f2fc" opacity="0.8"/><rect x="595.2" y="212.248" width="9.799999999999955" height="1.148" fill="#e4f2fc" opacity="0.7"/><circle cx="596.1" cy="110.5" r="2.64" fill="#f4f8fc" stroke="#5aa2d8" stroke-width="1.188"/><rect x="600.8" y="109.9" width="6.999999999999977" height="1.2" fill="#74aee0" opacity="0.5"/><circle cx="596.1" cy="118.86" r="2.64" fill="#f4f8fc" stroke="#8ccaa6" stroke-width="1.188"/><rect x="600.8" y="118.26" width="6.999999999999977" height="1.2" fill="#74aee0" opacity="0.5"/><circle cx="596.1" cy="127.22" r="3.3" fill="#4a90d8"/><circle cx="596.1" cy="127.22" r="1.386" fill="#fff" opacity="0.8"/><rect x="600.8" y="126.62" width="6.999999999999977" height="1.2" fill="#74aee0" opacity="0.5"/><circle cx="596.1" cy="135.57999999999998" r="3.3" fill="#f0b430"/><circle cx="596.1" cy="135.57999999999998" r="1.386" fill="#fff" opacity="0.8"/><rect x="600.8" y="134.98" width="6.999999999999977" height="1.2" fill="#74aee0" opacity="0.5"/><circle cx="596.1" cy="143.94" r="3.3" fill="#d848a8"/><circle cx="596.1" cy="143.94" r="1.386" fill="#fff" opacity="0.8"/><rect x="600.8" y="143.34" width="6.999999999999977" height="1.2" fill="#74aee0" opacity="0.5"/><circle cx="596.1" cy="152.3" r="2.64" fill="#f4f8fc" stroke="#84bcbc" stroke-width="1.188"/><rect x="600.8" y="151.70000000000002" width="6.999999999999977" height="1.2" fill="#74aee0" opacity="0.5"/><circle cx="596.1" cy="160.66" r="3.3" fill="#f07048"/><circle cx="596.1" cy="160.66" r="1.386" fill="#fff" opacity="0.8"/><rect x="600.8" y="160.06" width="6.999999999999977" height="1.2" fill="#74aee0" opacity="0.5"/><circle cx="596.1" cy="169.01999999999998" r="3.3" fill="#58b4e8"/><circle cx="596.1" cy="169.01999999999998" r="1.386" fill="#fff" opacity="0.8"/><rect x="600.8" y="168.42" width="6.999999999999977" height="1.2" fill="#74aee0" opacity="0.5"/><circle cx="596.1" cy="177.38" r="2.64" fill="#f4f8fc" stroke="#8890dc" stroke-width="1.188"/><rect x="600.8" y="176.78" width="6.999999999999977" height="1.2" fill="#74aee0" opacity="0.5"/><circle cx="596.1" cy="185.74" r="3.3" fill="#e84868"/><circle cx="596.1" cy="185.74" r="1.386" fill="#fff" opacity="0.8"/><rect x="600.8" y="185.14000000000001" width="6.999999999999977" height="1.2" fill="#74aee0" opacity="0.5"/><circle cx="596.1" cy="194.1" r="2.64" fill="#f4f8fc" stroke="#3898e0" stroke-width="1.188"/><rect x="600.8" y="193.5" width="6.999999999999977" height="1.2" fill="#74aee0" opacity="0.5"/><circle cx="596.1" cy="202.45999999999998" r="3.3" fill="#e03060"/><circle cx="596.1" cy="202.45999999999998" r="1.386" fill="#fff" opacity="0.8"/><rect x="600.8" y="201.85999999999999" width="6.999999999999977" height="1.2" fill="#74aee0" opacity="0.5"/><rect x="402.5" y="141.25" width="45.75" height="13" rx="6.5" fill="#3875c1"/><text x="426.3" y="150.7" font-size="7.5" fill="#fff" opacity="0.88" text-anchor="middle" filter="url(#b3)">小组大屏1</text><rect x="508.25" y="141.25" width="45" height="13" rx="6.5" fill="#3875c1"/><text x="531.7" y="150.6" font-size="7.5" fill="#fff" opacity="0.88" text-anchor="middle" filter="url(#b3)">小组大屏2</text><rect x="402.4" y="201.1" width="45.8" height="13" rx="6.5" fill="#3875c1"/><text x="426.3" y="210.6" font-size="7.5" fill="#fff" opacity="0.88" text-anchor="middle" filter="url(#b3)">小组大屏3</text><rect x="508.2" y="201.1" width="44.9" height="13" rx="6.5" fill="#3875c1"/><text x="531.6" y="210.4" font-size="7.5" fill="#fff" opacity="0.88" text-anchor="middle" filter="url(#b3)">小组大屏4</text></g></g>
<rect x="394.1" y="90.6" width="0.9" height="134.4" fill="#aeaca3" filter="url(#b3)"/>
<rect x="174" y="225.2" width="440.5" height="2.2" fill="#f9faf9" filter="url(#b5)"/>
<g><g filter="url(#b3)"><rect x="33.6" y="382.1" width="169.6" height="103.39999999999998" rx="1.2" fill="url(#bez)"/><rect x="37.9" y="384.9" width="161.39999999999998" height="94.00000000000003" fill="#cccbc3"/><rect x="38.7" y="477.6" width="159.79999999999998" height="1.3" fill="#eeede8"/><rect x="39" y="386" width="159.2" height="91.60000000000002" fill="#fff"/><rect x="166.2" y="481.90000000000003" width="12" height="1.4" fill="#7e7d76" opacity="0.8"/><rect x="181.39999999999998" y="481.8" width="1.5" height="1.6" fill="#7e7d76" opacity="0.8"/><rect x="184.39999999999998" y="481.8" width="1.5" height="1.6" fill="#7e7d76" opacity="0.8"/><rect x="187.39999999999998" y="481.8" width="1.5" height="1.6" fill="#7e7d76" opacity="0.8"/></g><g filter="url(#b5)"><rect x="39.00" y="386.00" width="79.60" height="46.00" fill="#fff"/><svg x="47.52" y="386.00" width="62.56" height="46.00" viewBox="0 0 624 406" preserveAspectRatio="none" overflow="hidden"><rect x="-5" y="-5" width="700" height="420" fill="#fff"/><rect x="152" y="26" width="310" height="30" fill="#bfe9e0"/><path d="M172 36h7v9h-7zM182 37h13v10h-13zM198 36h9v11h-9zM211 35h10v11h-10zM224 36h13v9h-13zM244 37h11v9h-11zM257 37h10v9h-10zM270 35h14v11h-14zM286 37h11v10h-11zM304 36h10v10h-10zM316 36h7v9h-7zM326 35h5v12h-5zM338 36h14v10h-14zM360 35h8v11h-8zM372 36h10v11h-10zM385 35h4v10h-4zM391 35h12v12h-12zM406 36h5v11h-5zM412 38h11v9h-11zM426 37h8v9h-8zM436 37h8v9h-8z" fill="#1f7a78" opacity="0.75"/><path d="M174 88 V330 M174 323 L62 368 M174 323 H420" stroke="#8c8c8c" stroke-width="4" fill="none"/><path d="M197 99h7v13h-7zM206 98h14v16h-14zM223 99h10v15h-10zM235 98h14v13h-14zM254 99h13v11h-13zM270 99h15v14h-15zM288 102h6v11h-6zM297 99h10v13h-10zM310 100h11v13h-11zM324 99h14v14h-14z" fill="#404448" opacity="0.7"/><rect x="192" y="215" width="180" height="108" fill="#f3ecf6"/><path d="M192 215 V330 M372 215 V330" stroke="#b8a8c8" stroke-width="3" fill="none"/><path d="M187 222 Q186 150 280 138 Q372 148 374 222 Q280 248 187 222 Z" fill="url(#gAdome)" stroke="#a864a8" stroke-width="4"/><path d="M200 170 Q280 130 362 172" stroke="#8c4c9c" stroke-width="5" fill="none" opacity="0.7"/><rect x="287" y="150" width="66" height="190" fill="#bfd6f2" opacity="0.9"/><path d="M287 150 V340 M353 160 V340" stroke="#88a4d4" stroke-width="3"/><ellipse cx="280" cy="334" rx="88" ry="29" fill="#f3c82c" stroke="#e5a020" stroke-width="4"/><path d="M287 330 V362" stroke="#d06030" stroke-width="4"/><rect x="20" y="213" width="118" height="66" fill="#e79cc8"/><path d="M30 226h5v12h-5zM44 225h13v13h-13zM60 224h13v13h-13zM77 225h15v12h-15zM94 226h9v10h-9zM113 227h13v11h-13zM127 224h3v13h-3z" fill="#b0307c" opacity="0.7"/><path d="M30 250h11v13h-11zM51 253h7v11h-7zM62 250h6v11h-6zM71 251h11v13h-11zM86 251h5v12h-5zM93 251h12v12h-12zM109 252h9v12h-9zM123 250h7v11h-7z" fill="#b0307c" opacity="0.7"/><rect x="427" y="200" width="126" height="77" fill="#e79cc8"/><path d="M438 214h12v15h-12zM454 216h10v13h-10zM474 215h7v12h-7zM487 217h7v12h-7zM496 214h11v14h-11zM509 214h6v11h-6zM519 215h12v13h-12zM533 217h7v11h-7z" fill="#b0307c" opacity="0.7"/><path d="M438 246h8v13h-8zM450 248h13v12h-13zM476 246h9v15h-9zM488 246h13v14h-13zM506 247h10v14h-10zM520 249h4v11h-4zM528 249h14v12h-14z" fill="#b0307c" opacity="0.7"/><path d="M138 240 L192 232 M427 232 L372 250 M372 300 L410 308 L430 322" stroke="#9a9a9a" stroke-width="3" fill="none"/><path d="M372 298 L412 312 L428 330" stroke="#e06030" stroke-width="3" fill="none"/><path d="M430 314h10v12h-10zM448 312h11v15h-11zM462 313h13v15h-13zM477 312h5v12h-5zM484 313h5v11h-5zM492 315h4v12h-4zM500 312h14v15h-14zM518 315h7v12h-7zM534 313h13v12h-13z" fill="#2a8484" opacity="0.8"/><path d="M430 347h5v14h-5zM437 347h11v14h-11zM452 346h6v16h-6zM460 347h11v13h-11zM475 346h10v16h-10zM494 346h6v14h-6zM502 347h12v11h-12zM517 346h12v16h-12zM532 347h4v14h-4zM538 346h10v15h-10z" fill="#2a8484" opacity="0.8"/><path d="M112 367h14v7h-14zM130 367h14v8h-14zM154 367h6v8h-6zM163 367h6v8h-6zM172 367h11v7h-11z" fill="#505050" opacity="0.6"/><path d="M332 371h12v8h-12zM346 371h14v8h-14zM363 370h11v7h-11zM378 370h6v9h-6zM388 370h7v9h-7zM398 371h12v8h-12z" fill="#505050" opacity="0.6"/></svg><rect x="118.60" y="386.00" width="79.60" height="46.00" fill="#fff"/><svg x="127.12" y="386.00" width="62.56" height="46.00" viewBox="0 0 625 406" preserveAspectRatio="none" overflow="hidden"><rect x="-5" y="-5" width="700" height="420" fill="#fff"/><rect x="180" y="4" width="256" height="32" fill="#d6f0c6"/><path d="M195 12h7v14h-7zM205 12h8v11h-8zM216 13h6v13h-6zM225 13h13v10h-13zM248 12h5v11h-5zM255 12h12v13h-12zM276 14h11v11h-11zM291 12h8v14h-8zM301 12h8v12h-8zM312 14h12v11h-12zM326 13h7v12h-7zM336 14h15v12h-15zM353 14h7v10h-7zM364 12h14v10h-14zM380 12h15v13h-15zM404 15h4v11h-4zM412 12h4v13h-4zM418 12h7v11h-7z" fill="#2c5c30" opacity="0.8"/><path d="M287 48 V270" stroke="#707478" stroke-width="4"/><path d="M318 90h5v10h-5zM327 88h11v14h-11zM341 91h10v11h-10zM361 88h13v13h-13zM377 88h7v13h-7zM388 89h13v11h-13zM405 88h4v10h-4zM412 88h11v10h-11zM433 89h7v12h-7z" fill="#404448" opacity="0.7"/><path d="M166 140 Q200 215 268 232 L300 236 Q360 225 404 140 Q285 180 166 140 Z" fill="url(#gBbody)"/><ellipse cx="285" cy="138" rx="120" ry="30" fill="url(#gBrim)"/><path d="M360 176 L448 168 L418 210 L352 228 Z" fill="#e8f2c0" opacity="0.7" stroke="#7c682c" stroke-width="4"/><path d="M356 176 V300" stroke="#60308c" stroke-width="6"/><path d="M310 208 V270" stroke="#38342c" stroke-width="5"/><path d="M175 300 L316 228 M316 268 L356 298 M150 236 L380 236 L470 236" stroke="#b0a060" stroke-width="3" fill="none" opacity="0.8"/><path d="M175 300 L310 232" stroke="#d8b050" stroke-width="4"/><path d="M140 239h11v9h-11zM154 238h6v9h-6zM165 236h12v11h-12zM180 236h8v10h-8z" fill="#404040" opacity="0.7"/><path d="M250 286h5v11h-5zM258 287h13v10h-13zM274 289h7v9h-7zM286 286h5v11h-5zM294 288h2v10h-2z" fill="#404040" opacity="0.7"/><path d="M462 186h5v11h-5zM478 188h10v10h-10zM492 187h4v11h-4zM499 186h6v10h-6zM508 188h12v9h-12z" fill="#404040" opacity="0.7"/><path d="M345 322h5v11h-5zM354 323h12v9h-12zM370 322h13v9h-13zM387 323h11v10h-11zM399 322h5v10h-5zM416 323h10v9h-10zM430 322h15v11h-15zM448 322h2v11h-2z" fill="#505050" opacity="0.6"/><rect x="25" y="338" width="570" height="40" fill="#def0bc"/><path d="M36 349h13v16h-13zM51 353h12v13h-12zM64 349h13v17h-13zM79 349h7v15h-7zM88 349h6v16h-6zM96 348h6v17h-6zM105 349h5v16h-5zM113 350h14v13h-14zM129 353h9v13h-9zM140 349h8v16h-8zM150 349h14v14h-14zM167 348h12v13h-12zM181 349h5v15h-5zM191 350h5v16h-5zM198 348h13v14h-13zM213 349h8v13h-8zM228 349h8v15h-8zM238 348h6v15h-6zM246 351h10v13h-10zM258 348h10v17h-10zM270 348h15v18h-15zM286 348h9v17h-9zM297 349h10v17h-10zM310 351h8v14h-8zM321 352h8v14h-8zM331 350h15v13h-15zM354 349h7v16h-7zM364 348h14v18h-14zM380 351h7v14h-7zM389 350h7v14h-7zM401 348h5v17h-5zM408 348h7v16h-7zM417 348h5v18h-5zM424 349h6v16h-6zM432 348h9v17h-9zM444 349h15v15h-15zM461 350h10v13h-10zM472 351h13v14h-13zM488 348h11v17h-11zM504 350h12v16h-12zM518 350h9v13h-9zM529 349h5v13h-5zM537 350h7v16h-7zM545 351h11v14h-11zM559 351h5v13h-5zM566 349h5v16h-5zM572 348h13v18h-13z" fill="#47561c" opacity="0.7"/><rect x="125" y="384" width="370" height="20" fill="#cfe3f2"/><path d="M135 389h13v9h-13zM151 389h10v8h-10zM164 389h12v8h-12zM179 390h11v9h-11zM200 389h12v10h-12zM215 389h10v8h-10zM229 389h13v9h-13zM244 389h9v9h-9zM256 390h6v8h-6zM264 391h10v8h-10zM276 390h7v9h-7zM286 390h5v8h-5zM295 389h8v8h-8zM307 390h11v9h-11zM321 390h6v9h-6zM328 389h11v7h-11zM342 390h12v7h-12zM356 390h13v7h-13zM371 391h4v8h-4zM384 391h14v8h-14zM400 389h15v9h-15zM417 391h7v8h-7zM428 389h8v9h-8zM442 390h8v9h-8zM457 391h14v8h-14zM474 390h9v9h-9z" fill="#3868b0" opacity="0.7"/></svg><rect x="39.00" y="432.00" width="79.60" height="45.60" fill="#fff"/><svg x="47.79" y="432.00" width="62.02" height="45.60" viewBox="0 0 624 404" preserveAspectRatio="none" overflow="hidden"><rect x="-5" y="-5" width="700" height="420" fill="#fff"/><path d="M192 22 V235" stroke="#8c9098" stroke-width="4"/><path d="M52 318 L165 240 M337 222 Q400 215 440 235 Q420 250 380 246" stroke="#9a9ca4" stroke-width="3.5" fill="none"/><path d="M122 262 Q120 190 150 150 Q175 118 205 115 Q250 108 290 140 Q330 180 338 222 Q330 250 285 274 Q240 290 205 282 Q150 275 122 262 Z" fill="url(#gCb)"/><path d="M150 135 L335 224 M264 110 L212 276 M160 190 L290 262" stroke="#d2461c" stroke-width="6" fill="none" opacity="0.85"/><path d="M290 62 L118 375 M108 352 L118 378 L140 362" stroke="#4a62c4" stroke-width="5" fill="none"/><path d="M128 100 L215 175" stroke="#8aa0d8" stroke-width="3"/><path d="M342 109h7v16h-7zM353 108h8v16h-8zM375 108h12v18h-12zM391 108h11v18h-11zM414 109h5v17h-5zM423 110h7v13h-7zM435 109h13v14h-13zM460 108h12v16h-12zM476 108h13v18h-13zM495 109h9v17h-9zM509 109h4v14h-4zM515 108h10v15h-10zM540 109h10v16h-10zM553 108h12v18h-12zM579 110h15v13h-15zM599 110h3v13h-3z" fill="#30343c" opacity="0.72"/><path d="M197 335h13v14h-13zM213 335h10v13h-10zM227 335h12v11h-12zM242 334h5v15h-5zM250 334h7v14h-7zM262 335h5v13h-5zM282 334h11v15h-11zM298 334h14v13h-14zM315 337h13v12h-13zM333 335h13v12h-13zM359 336h12v13h-12zM376 335h4v14h-4zM385 336h5v11h-5zM394 335h15v14h-15zM413 335h13v13h-13zM430 335h5v14h-5zM439 336h10v13h-10z" fill="#484c54" opacity="0.6"/><path d="M415 227h6v13h-6zM423 226h10v14h-10z" fill="#404040" opacity="0.6"/></svg><rect x="118.60" y="432.00" width="79.60" height="45.60" fill="#fff"/><svg x="127.39" y="432.00" width="62.02" height="45.60" viewBox="0 0 625 404" preserveAspectRatio="none" overflow="hidden"><rect x="-5" y="-5" width="700" height="420" fill="#fff"/><path d="M20 30 L95 18 L245 32 L245 200 L155 190 M95 18 V60 M20 30 V160 L50 190 L155 190" stroke="#9aa0a8" stroke-width="3" fill="none"/><path d="M50 200 L120 170 L200 178 L130 196 Z" fill="#68c8b8" opacity="0.75"/><path d="M100 15 V175" stroke="#1c2c34" stroke-width="7"/><path d="M25 62 L98 38 M102 132 Q160 150 218 168" stroke="#d83a30" stroke-width="7" fill="none"/><path d="M25 72 L120 125 L218 168" stroke="#3848b8" stroke-width="6" fill="none"/><circle cx="100" cy="30" r="7" fill="#202428"/><circle cx="220" cy="168" r="6" fill="#202428"/><circle cx="100" cy="160" r="7" fill="#186c68"/><path d="M18 135h12v12h-12zM34 136h6v10h-6z" fill="#404040" opacity="0.7"/><path d="M425 22 L318 158 L400 200 L520 218 L605 178 Z" fill="#fff" stroke="#30343c" stroke-width="3.5"/><path d="M425 22 L400 200 M425 22 L520 218 M425 22 L470 140 L605 178 M318 158 L470 140 M470 140 L520 218" stroke="#30343c" stroke-width="3.5" fill="none"/><path d="M425 24 L325 152 M605 180 L535 210" stroke="#e04038" stroke-width="7" fill="none"/><path d="M318 162 L480 178 L560 172" stroke="#3c50c0" stroke-width="6" fill="none"/><circle cx="425" cy="24" r="7" fill="#202428"/><circle cx="470" cy="140" r="6" fill="#202428"/><circle cx="320" cy="160" r="6" fill="#a03070"/><circle cx="604" cy="178" r="6" fill="#c03040"/><path d="M350 86h11v9h-11zM364 85h8v10h-8z" fill="#404040" opacity="0.7"/><path d="M520 81h4v8h-4zM528 81h10v9h-10zM542 81h3v9h-3z" fill="#404040" opacity="0.7"/><path d="M16 244h16v25h-16zM40 245h24v25h-24zM75 245h17v22h-17zM95 245h13v25h-13zM112 250h17v19h-17zM131 245h14v24h-14zM147 248h19v19h-19zM176 244h23v25h-23zM202 247h15v20h-15zM220 245h8v24h-8z" fill="#101010" opacity="0.85"/><path d="M16 278h10v14h-10zM38 279h5v12h-5zM47 278h9v14h-9zM61 281h12v11h-12zM78 281h6v11h-6zM94 278h9v16h-9zM105 280h11v13h-11zM122 280h13v13h-13zM137 281h6v12h-6zM146 278h9v13h-9zM170 278h7v14h-7zM180 281h8v11h-8zM193 279h11v14h-11z" fill="#202020" opacity="0.7"/><path d="M16 305h14v12h-14zM43 305h7v13h-7zM54 306h11v12h-11zM69 305h13v12h-13zM87 304h13v14h-13zM104 307h14v11h-14zM121 305h5v11h-5zM131 305h13v11h-13zM147 305h14v13h-14zM166 305h10v10h-10zM179 308h11v10h-11z" fill="#303030" opacity="0.65"/><path d="M20 345 L75 328 L140 350 M30 372 L100 352 L150 368 M20 388 L110 384" stroke="#50545c" stroke-width="3" fill="none" opacity="0.7"/><path d="M332 248h11v10h-11zM348 250h14v8h-14zM366 249h11v7h-11zM393 250h14v7h-14zM411 248h13v9h-13zM428 249h13v8h-13zM445 248h5v9h-5zM455 248h7v8h-7zM476 249h9v9h-9zM490 249h5v8h-5zM502 249h3v8h-3z" fill="#50545c" opacity="0.55"/><path d="M336 288h26v22h-26zM365 289h21v22h-21zM388 287h21v24h-21zM411 286h29v26h-29zM442 282h25v29h-25zM476 284h24v22h-24zM503 285h15v24h-15zM521 287h14v24h-14zM537 284h26v22h-26zM566 285h9v22h-9z" fill="#101010" opacity="0.85"/><path d="M336 322h14v9h-14zM353 322h7v10h-7z" fill="#303030" opacity="0.7"/></svg><path d="M118.6 386 V477.6 M39 432 H198.2" stroke="#b0b2b6" stroke-width="0.55" fill="none"/></g><g filter="url(#b3)"><rect x="184.89999999999998" y="415.4" width="13.300000000000011" height="33.400000000000034" fill="#fafcfe"/><rect x="184.89999999999998" y="415.4" width="13.300000000000011" height="6.8" fill="url(#sbh)"/><path d="M185.89999999999998 419.79279999999994 L188.2188 417.84799999999996 L189.64 418.2015999999999 L189.266 421.38399999999996 L187.022 421.38399999999996 Z" fill="#b3222f"/><rect x="190.83999999999997" y="417.712" width="6.160000000000011" height="1.1560000000000001" fill="#d8ebfa" opacity="0.8"/><rect x="190.83999999999997" y="419.888" width="6.160000000000011" height="1.1560000000000001" fill="#d8ebfa" opacity="0.8"/><rect x="184.89999999999998" y="442.0" width="13.300000000000011" height="6.8" fill="#62b5ec"/><rect x="187.39999999999998" y="443.904" width="8.300000000000011" height="1.088" fill="#e4f2fc" opacity="0.8"/><rect x="188.89999999999998" y="446.35200000000003" width="5.300000000000011" height="0.9520000000000001" fill="#e4f2fc" opacity="0.7"/><circle cx="188.89999999999998" cy="425.9" r="1.92" fill="#f4f8fc" stroke="#d848a0" stroke-width="0.864"/><rect x="192.7" y="425.29999999999995" width="4.300000000000011" height="1.2" fill="#74aee0" opacity="0.5"/><circle cx="188.89999999999998" cy="432.3" r="1.92" fill="#f4f8fc" stroke="#8cc0b4" stroke-width="0.864"/><rect x="192.7" y="431.7" width="4.300000000000011" height="1.2" fill="#74aee0" opacity="0.5"/><circle cx="188.89999999999998" cy="438.6" r="1.92" fill="#f4f8fc" stroke="#6cb4e4" stroke-width="0.864"/><rect x="192.7" y="438.0" width="4.300000000000011" height="1.2" fill="#74aee0" opacity="0.5"/><rect x="41.6" y="420.8" width="33.7" height="9.3" rx="4.65" fill="#3875c1"/><text x="58.4" y="428" font-size="6.3" font-weight="bold" fill="#fff" opacity="0.88" text-anchor="middle" filter="url(#b3)">李晓倩</text><rect x="122" y="420.8" width="33.7" height="9.3" rx="4.65" fill="#3875c1"/><text x="138.8" y="428" font-size="6.3" font-weight="bold" fill="#fff" opacity="0.88" text-anchor="middle" filter="url(#b3)">王怡然</text><rect x="41.6" y="466.9" width="33.7" height="9.3" rx="4.65" fill="#3875c1"/><text x="58.4" y="474.1" font-size="6.3" font-weight="bold" fill="#fff" opacity="0.88" text-anchor="middle" filter="url(#b3)">李蓓</text><rect x="122" y="466.9" width="33.7" height="9.3" rx="4.65" fill="#3875c1"/><text x="138.8" y="474" font-size="6.3" font-weight="bold" fill="#fff" opacity="0.88" text-anchor="middle" filter="url(#b3)">丁三石</text></g></g>
<g><g filter="url(#b3)"><rect x="586.2" y="382.1" width="169.39999999999998" height="103.39999999999998" rx="1.2" fill="url(#bez)"/><rect x="589.9" y="384.9" width="161.8" height="94.00000000000003" fill="#cccbc3"/><rect x="590.7" y="477.6" width="160.20000000000002" height="1.3" fill="#eeede8"/><rect x="591" y="386" width="159.60000000000002" height="91.60000000000002" fill="#fff"/><rect x="718.6" y="481.90000000000003" width="12" height="1.4" fill="#7e7d76" opacity="0.8"/><rect x="733.8000000000001" y="481.8" width="1.5" height="1.6" fill="#7e7d76" opacity="0.8"/><rect x="736.8000000000001" y="481.8" width="1.5" height="1.6" fill="#7e7d76" opacity="0.8"/><rect x="739.8000000000001" y="481.8" width="1.5" height="1.6" fill="#7e7d76" opacity="0.8"/></g><g filter="url(#b5)"><rect x="591.00" y="386.00" width="79.30" height="45.60" fill="#f5eec6"/><svg x="599.64" y="386.00" width="62.02" height="45.60" viewBox="0 0 633 406" preserveAspectRatio="none" overflow="hidden"><rect x="-5" y="-5" width="700" height="420" fill="#f5eec6"/><path d="M248 88 V275 L118 372 M248 275 H580" stroke="#9a9488" stroke-width="3" fill="none"/><path d="M278 278 L528 394" stroke="#e86040" stroke-width="3.5"/><path d="M200 152 L352 48 L455 52 L586 154 L484 194 L408 236 L294 194 Z" fill="url(#gEh)"/><path d="M306 150 Q420 88 552 146 Q486 202 408 230 Q345 202 306 150 Z" fill="url(#gEi)"/><path d="M340 150 Q400 128 470 160" stroke="#e8a070" stroke-width="3" fill="none" opacity="0.8"/><path d="M292 70 L312 64 L468 138 L468 364 L298 280 Z" fill="url(#gEp)"/><path d="M292 70 L298 280 M468 138 V364" stroke="#3894d8" stroke-width="3" fill="none"/><path d="M408 238 V330" stroke="#183c6c" stroke-width="5"/><path d="M300 110 Q390 120 466 180" stroke="#c8e4f8" stroke-width="3" fill="none" opacity="0.8"/><path d="M38 81h9v13h-9zM49 82h13v14h-13zM67 81h4v13h-4zM73 80h8v16h-8zM85 82h10v14h-10zM98 80h12v15h-12zM116 80h4v15h-4z" fill="#282420" opacity="0.75"/><path d="M38 132h14v16h-14zM55 131h7v16h-7zM77 130h12v16h-12zM92 130h8v15h-8zM111 130h12v15h-12zM136 131h4v15h-4zM145 130h14v16h-14z" fill="#282420" opacity="0.75"/><path d="M33 179h4v11h-4zM39 178h6v12h-6zM49 179h14v10h-14zM65 178h10v11h-10zM78 178h9v11h-9zM91 180h12v9h-12zM105 180h13v10h-13zM121 178h6v11h-6zM129 180h5v9h-5zM138 180h15v9h-15zM156 178h14v10h-14zM172 178h11v10h-11zM185 178h11v10h-11zM199 179h13v10h-13zM214 179h5v10h-5z" fill="#282420" opacity="0.7"/><path d="M90 211h11v13h-11zM105 211h6v14h-6zM115 211h14v13h-14zM140 210h12v15h-12zM154 210h5v14h-5zM163 211h6v12h-6zM172 210h5v15h-5zM180 212h14v13h-14zM196 212h9v11h-9z" fill="#282420" opacity="0.7"/><path d="M28 220h11v9h-11zM43 217h10v10h-10zM56 216h15v12h-15zM72 216h9v11h-9zM84 216h4v13h-4z" fill="#e04830" opacity="0.8"/><path d="M28 259h9v11h-9zM40 260h10v11h-10zM54 258h5v11h-5zM63 258h11v13h-11zM80 261h7v9h-7zM103 261h4v10h-4zM111 258h8v13h-8zM121 259h14v11h-14zM139 258h6v12h-6zM150 259h5v11h-5zM161 258h8v12h-8zM173 260h5v10h-5zM183 258h7v13h-7z" fill="#e85a40" opacity="0.75"/><path d="M528 84h5v6h-5zM545 85h7v7h-7zM556 85h10v7h-10zM570 86h13v7h-13z" fill="#c8c040" opacity="0.7"/><path d="M120 358h5v9h-5zM128 358h6v10h-6z" fill="#605848" opacity="0.6"/><path d="M310 341h9v9h-9zM321 342h9v7h-9z" fill="#605848" opacity="0.6"/></svg><rect x="670.30" y="386.00" width="80.40" height="45.60" fill="#fff"/><svg x="679.49" y="386.00" width="62.02" height="45.60" viewBox="0 0 620 406" preserveAspectRatio="none" overflow="hidden"><rect x="-5" y="-5" width="700" height="420" fill="#fff"/><path d="M336 8 V40" stroke="#30343c" stroke-width="5"/><path d="M258 238 L78 338 M378 228 L558 378" stroke="#b8bcc4" stroke-width="3" fill="none"/><path d="M193 173 L278 38 L338 33 L498 118 L398 168 L368 238 L278 203 Z" fill="url(#gFg)"/><path d="M268 33 L293 28 L378 118 L373 153 L328 118 Z" fill="#62b2ea" opacity="0.9"/><path d="M268 208 L348 238 L368 283 L278 238 Z" fill="#6cb8ec" opacity="0.9"/><path d="M273 33 L528 373" stroke="#a2449a" stroke-width="8" opacity="0.9"/><path d="M283 45 L420 228" stroke="#d84848" stroke-width="3.5" opacity="0.8"/><circle cx="520" cy="362" r="12" fill="#e04848" opacity="0.85"/><path d="M498 268h12v12h-12zM514 270h13v10h-13zM532 268h6v12h-6z" fill="#30343c" opacity="0.75"/><path d="M303 284h12v8h-12zM326 285h12v7h-12z" fill="#50545c" opacity="0.6"/><path d="M470 71h9v7h-9zM482 71h9v6h-9zM494 71h6v6h-6z" fill="#a0b0a0" opacity="0.6"/><path d="M68 332h7v8h-7zM79 333h5v8h-5z" fill="#909498" opacity="0.6"/><path d="M290 115h5v8h-5zM306 115h4v9h-4z" fill="#404448" opacity="0.6"/></svg><rect x="591.00" y="431.60" width="79.30" height="46.00" fill="#fff"/><svg x="599.37" y="431.60" width="62.56" height="46.00" viewBox="0 0 633 404" preserveAspectRatio="none" overflow="hidden"><rect x="-5" y="-5" width="700" height="420" fill="#fff"/><path d="M82 110 V282 L300 372 L598 308 L598 140 M82 282 L380 232 L598 308 M380 232 V70 M82 180 L380 130 L598 200 M82 230 L380 180 L598 255" stroke="#d4d6da" stroke-width="2.5" fill="none"/><path d="M60 281h6v7h-6zM69 281h7v6h-7z" fill="#a0a4a8" opacity="0.6"/><path d="M180 337h10v6h-10zM193 337h3v7h-3z" fill="#a0a4a8" opacity="0.6"/><path d="M290 378h9v8h-9zM301 379h5v6h-5z" fill="#a0a4a8" opacity="0.6"/><path d="M450 345h13v7h-13z" fill="#a0a4a8" opacity="0.6"/><path d="M268 200 Q300 215 330 254 Q345 262 362 252 Q395 212 420 196 Q340 190 268 200 Z" fill="url(#gGu)"/><path d="M86 112 Q215 128 363 47 Q460 120 570 132 Q470 175 420 196 Q350 215 308 197 Q290 195 268 200 Q170 170 86 112 Z" fill="url(#gGs)"/><g clip-path="url(#gGc)"><ellipse cx="92" cy="112" rx="95" ry="50" fill="url(#gGr)"/><ellipse cx="363" cy="50" rx="90" ry="55" fill="url(#gGr)"/><ellipse cx="566" cy="130" rx="95" ry="50" fill="url(#gGr)"/><ellipse cx="316" cy="200" rx="50" ry="14" fill="url(#gGr)"/></g></svg><rect x="670.30" y="431.60" width="80.40" height="46.00" fill="#fff"/><svg x="679.22" y="431.60" width="62.56" height="46.00" viewBox="0 0 620 404" preserveAspectRatio="none" overflow="hidden"><rect x="-5" y="-5" width="700" height="420" fill="#fff"/><path d="M38 150 V272 L428 382 L598 182 M38 272 L258 60 M598 182 V85" stroke="#c8ccd2" stroke-width="2.5" fill="none"/><rect x="22" y="160" width="10" height="5" fill="#70747c" opacity="0.7"/><rect x="22" y="186" width="10" height="5" fill="#70747c" opacity="0.7"/><rect x="22" y="212" width="10" height="5" fill="#70747c" opacity="0.7"/><rect x="22" y="238" width="10" height="5" fill="#70747c" opacity="0.7"/><rect x="22" y="264" width="10" height="5" fill="#70747c" opacity="0.7"/><rect x="60" y="288" width="10" height="6" fill="#70747c" opacity="0.7"/><rect x="470" y="350" width="10" height="6" fill="#70747c" opacity="0.7"/><rect x="150" y="314" width="10" height="6" fill="#70747c" opacity="0.7"/><rect x="508" y="304" width="10" height="6" fill="#70747c" opacity="0.7"/><rect x="240" y="340" width="10" height="6" fill="#70747c" opacity="0.7"/><rect x="546" y="258" width="10" height="6" fill="#70747c" opacity="0.7"/><rect x="330" y="366" width="10" height="6" fill="#70747c" opacity="0.7"/><rect x="584" y="212" width="10" height="6" fill="#70747c" opacity="0.7"/><path d="M28 147 Q150 95 258 17 Q420 75 588 82 Q560 170 518 222 Q440 270 338 277 Q250 270 188 242 Q100 205 28 147 Z" fill="url(#gHs)"/><path d="M28 147 Q150 95 258 17 Q420 75 588 82 Q560 170 518 222 Q440 270 338 277 Q250 270 188 242 Q100 205 28 147 Z" fill="url(#gHb)"/><path d="M47 136 Q114 239 221 252 M54 158 Q190 120 286 22 M66 125 Q140 236 255 258 M80 169 Q216 128 313 28 M86 114 Q167 232 288 259 M106 180 Q243 136 340 33 M105 104 Q193 225 321 256 M131 190 Q270 144 368 39 M124 93 Q219 216 355 249 M157 201 Q296 153 396 44 M143 82 Q246 205 388 238 M183 212 Q323 161 423 50 M162 71 Q272 192 421 223 M209 223 Q350 169 450 55 M181 60 Q298 177 455 203 M235 234 Q376 177 478 60 M200 50 Q324 159 488 179 M260 244 Q403 185 506 66 M220 39 Q350 140 521 151 M286 255 Q430 193 533 71 M239 28 Q377 118 555 119 M312 266 Q456 201 560 77 " stroke="#28305c" stroke-width="1.3" fill="none" opacity="0.32"/></svg><path d="M670.3 386 V477.6 M591 431.6 H750.7" stroke="#b0b2b6" stroke-width="0.55" fill="none"/></g><g filter="url(#b3)"><rect x="737.4000000000001" y="415.4" width="13.299999999999955" height="33.400000000000034" fill="#fafcfe"/><rect x="737.4000000000001" y="415.4" width="13.299999999999955" height="6.8" fill="url(#sbh)"/><path d="M738.4000000000001 419.79279999999994 L740.7188000000001 417.84799999999996 L742.1400000000001 418.2015999999999 L741.7660000000001 421.38399999999996 L739.522 421.38399999999996 Z" fill="#b3222f"/><rect x="743.3400000000001" y="417.712" width="6.159999999999954" height="1.1560000000000001" fill="#d8ebfa" opacity="0.8"/><rect x="743.3400000000001" y="419.888" width="6.159999999999954" height="1.1560000000000001" fill="#d8ebfa" opacity="0.8"/><rect x="737.4000000000001" y="442.0" width="13.299999999999955" height="6.8" fill="#62b5ec"/><rect x="739.9000000000001" y="443.904" width="8.299999999999955" height="1.088" fill="#e4f2fc" opacity="0.8"/><rect x="741.4000000000001" y="446.35200000000003" width="5.2999999999999545" height="0.9520000000000001" fill="#e4f2fc" opacity="0.7"/><circle cx="741.4000000000001" cy="425.9" r="1.92" fill="#f4f8fc" stroke="#d848a0" stroke-width="0.864"/><rect x="745.2" y="425.29999999999995" width="4.2999999999999545" height="1.2" fill="#74aee0" opacity="0.5"/><circle cx="741.4000000000001" cy="432.3" r="1.92" fill="#f4f8fc" stroke="#8cc0b4" stroke-width="0.864"/><rect x="745.2" y="431.7" width="4.2999999999999545" height="1.2" fill="#74aee0" opacity="0.5"/><circle cx="741.4000000000001" cy="438.6" r="1.92" fill="#f4f8fc" stroke="#6cb4e4" stroke-width="0.864"/><rect x="745.2" y="438.0" width="4.2999999999999545" height="1.2" fill="#74aee0" opacity="0.5"/><rect x="593.2" y="420.8" width="33.7" height="9.3" rx="4.65" fill="#3875c1"/><text x="610" y="428" font-size="6.3" font-weight="bold" fill="#fff" opacity="0.88" text-anchor="middle" filter="url(#b3)">程旭</text><rect x="673.9" y="420.8" width="33.7" height="9.3" rx="4.65" fill="#3875c1"/><text x="690.7" y="428" font-size="6.3" font-weight="bold" fill="#fff" opacity="0.88" text-anchor="middle" filter="url(#b3)">张洪文</text><rect x="593.2" y="466.9" width="33.7" height="9.3" rx="4.65" fill="#3875c1"/><text x="610" y="474" font-size="6.3" font-weight="bold" fill="#fff" opacity="0.88" text-anchor="middle" filter="url(#b3)">周晨</text><rect x="673.9" y="466.9" width="33.7" height="9.3" rx="4.65" fill="#3875c1"/><text x="690.7" y="474" font-size="6.3" font-weight="bold" fill="#fff" opacity="0.88" text-anchor="middle" filter="url(#b3)">赵一航</text></g></g>
<rect x="214.8" y="376.9" width="78.69999999999997" height="49.2" rx="5" fill="#f4f5f6" opacity="0.9" filter="url(#b5)"/><rect x="215.9" y="378.0" width="76.49999999999997" height="47.0" rx="4" fill="#050505" filter="url(#b2)"/><rect x="221.2" y="380.7" width="65.60000000000002" height="42.19999999999999" fill="#fff"/><g filter="url(#b5)"><svg x="221.20" y="380.70" width="65.60" height="42.20" viewBox="0 0 624 406" preserveAspectRatio="none" overflow="hidden"><rect x="-5" y="-5" width="700" height="420" fill="#fff"/><rect x="152" y="26" width="310" height="30" fill="#bfe9e0"/><path d="M172 36h7v9h-7zM182 37h13v10h-13zM198 36h9v11h-9zM211 35h10v11h-10zM224 36h13v9h-13zM244 37h11v9h-11zM257 37h10v9h-10zM270 35h14v11h-14zM286 37h11v10h-11zM304 36h10v10h-10zM316 36h7v9h-7zM326 35h5v12h-5zM338 36h14v10h-14zM360 35h8v11h-8zM372 36h10v11h-10zM385 35h4v10h-4zM391 35h12v12h-12zM406 36h5v11h-5zM412 38h11v9h-11zM426 37h8v9h-8zM436 37h8v9h-8z" fill="#1f7a78" opacity="0.75"/><path d="M174 88 V330 M174 323 L62 368 M174 323 H420" stroke="#8c8c8c" stroke-width="4" fill="none"/><path d="M197 99h7v13h-7zM206 98h14v16h-14zM223 99h10v15h-10zM235 98h14v13h-14zM254 99h13v11h-13zM270 99h15v14h-15zM288 102h6v11h-6zM297 99h10v13h-10zM310 100h11v13h-11zM324 99h14v14h-14z" fill="#404448" opacity="0.7"/><rect x="192" y="215" width="180" height="108" fill="#f3ecf6"/><path d="M192 215 V330 M372 215 V330" stroke="#b8a8c8" stroke-width="3" fill="none"/><path d="M187 222 Q186 150 280 138 Q372 148 374 222 Q280 248 187 222 Z" fill="url(#gAdome)" stroke="#a864a8" stroke-width="4"/><path d="M200 170 Q280 130 362 172" stroke="#8c4c9c" stroke-width="5" fill="none" opacity="0.7"/><rect x="287" y="150" width="66" height="190" fill="#bfd6f2" opacity="0.9"/><path d="M287 150 V340 M353 160 V340" stroke="#88a4d4" stroke-width="3"/><ellipse cx="280" cy="334" rx="88" ry="29" fill="#f3c82c" stroke="#e5a020" stroke-width="4"/><path d="M287 330 V362" stroke="#d06030" stroke-width="4"/><rect x="20" y="213" width="118" height="66" fill="#e79cc8"/><path d="M30 226h5v12h-5zM44 225h13v13h-13zM60 224h13v13h-13zM77 225h15v12h-15zM94 226h9v10h-9zM113 227h13v11h-13zM127 224h3v13h-3z" fill="#b0307c" opacity="0.7"/><path d="M30 250h11v13h-11zM51 253h7v11h-7zM62 250h6v11h-6zM71 251h11v13h-11zM86 251h5v12h-5zM93 251h12v12h-12zM109 252h9v12h-9zM123 250h7v11h-7z" fill="#b0307c" opacity="0.7"/><rect x="427" y="200" width="126" height="77" fill="#e79cc8"/><path d="M438 214h12v15h-12zM454 216h10v13h-10zM474 215h7v12h-7zM487 217h7v12h-7zM496 214h11v14h-11zM509 214h6v11h-6zM519 215h12v13h-12zM533 217h7v11h-7z" fill="#b0307c" opacity="0.7"/><path d="M438 246h8v13h-8zM450 248h13v12h-13zM476 246h9v15h-9zM488 246h13v14h-13zM506 247h10v14h-10zM520 249h4v11h-4zM528 249h14v12h-14z" fill="#b0307c" opacity="0.7"/><path d="M138 240 L192 232 M427 232 L372 250 M372 300 L410 308 L430 322" stroke="#9a9a9a" stroke-width="3" fill="none"/><path d="M372 298 L412 312 L428 330" stroke="#e06030" stroke-width="3" fill="none"/><path d="M430 314h10v12h-10zM448 312h11v15h-11zM462 313h13v15h-13zM477 312h5v12h-5zM484 313h5v11h-5zM492 315h4v12h-4zM500 312h14v15h-14zM518 315h7v12h-7zM534 313h13v12h-13z" fill="#2a8484" opacity="0.8"/><path d="M430 347h5v14h-5zM437 347h11v14h-11zM452 346h6v16h-6zM460 347h11v13h-11zM475 346h10v16h-10zM494 346h6v14h-6zM502 347h12v11h-12zM517 346h12v16h-12zM532 347h4v14h-4zM538 346h10v15h-10z" fill="#2a8484" opacity="0.8"/><path d="M112 367h14v7h-14zM130 367h14v8h-14zM154 367h6v8h-6zM163 367h6v8h-6zM172 367h11v7h-11z" fill="#505050" opacity="0.6"/><path d="M332 371h12v8h-12zM346 371h14v8h-14zM363 370h11v7h-11zM378 370h6v9h-6zM388 370h7v9h-7zM398 371h12v8h-12z" fill="#505050" opacity="0.6"/></svg></g>
<rect x="308.79999999999995" y="376.9" width="78.60000000000004" height="49.2" rx="5" fill="#f4f5f6" opacity="0.9" filter="url(#b5)"/><rect x="309.9" y="378.0" width="76.40000000000003" height="47.0" rx="4" fill="#050505" filter="url(#b2)"/><rect x="314.9" y="380.7" width="65.70000000000005" height="42.19999999999999" fill="#fff"/><g filter="url(#b5)"><svg x="314.90" y="380.70" width="65.70" height="42.20" viewBox="0 0 625 406" preserveAspectRatio="none" overflow="hidden"><rect x="-5" y="-5" width="700" height="420" fill="#fff"/><rect x="180" y="4" width="256" height="32" fill="#d6f0c6"/><path d="M195 12h7v14h-7zM205 12h8v11h-8zM216 13h6v13h-6zM225 13h13v10h-13zM248 12h5v11h-5zM255 12h12v13h-12zM276 14h11v11h-11zM291 12h8v14h-8zM301 12h8v12h-8zM312 14h12v11h-12zM326 13h7v12h-7zM336 14h15v12h-15zM353 14h7v10h-7zM364 12h14v10h-14zM380 12h15v13h-15zM404 15h4v11h-4zM412 12h4v13h-4zM418 12h7v11h-7z" fill="#2c5c30" opacity="0.8"/><path d="M287 48 V270" stroke="#707478" stroke-width="4"/><path d="M318 90h5v10h-5zM327 88h11v14h-11zM341 91h10v11h-10zM361 88h13v13h-13zM377 88h7v13h-7zM388 89h13v11h-13zM405 88h4v10h-4zM412 88h11v10h-11zM433 89h7v12h-7z" fill="#404448" opacity="0.7"/><path d="M166 140 Q200 215 268 232 L300 236 Q360 225 404 140 Q285 180 166 140 Z" fill="url(#gBbody)"/><ellipse cx="285" cy="138" rx="120" ry="30" fill="url(#gBrim)"/><path d="M360 176 L448 168 L418 210 L352 228 Z" fill="#e8f2c0" opacity="0.7" stroke="#7c682c" stroke-width="4"/><path d="M356 176 V300" stroke="#60308c" stroke-width="6"/><path d="M310 208 V270" stroke="#38342c" stroke-width="5"/><path d="M175 300 L316 228 M316 268 L356 298 M150 236 L380 236 L470 236" stroke="#b0a060" stroke-width="3" fill="none" opacity="0.8"/><path d="M175 300 L310 232" stroke="#d8b050" stroke-width="4"/><path d="M140 239h11v9h-11zM154 238h6v9h-6zM165 236h12v11h-12zM180 236h8v10h-8z" fill="#404040" opacity="0.7"/><path d="M250 286h5v11h-5zM258 287h13v10h-13zM274 289h7v9h-7zM286 286h5v11h-5zM294 288h2v10h-2z" fill="#404040" opacity="0.7"/><path d="M462 186h5v11h-5zM478 188h10v10h-10zM492 187h4v11h-4zM499 186h6v10h-6zM508 188h12v9h-12z" fill="#404040" opacity="0.7"/><path d="M345 322h5v11h-5zM354 323h12v9h-12zM370 322h13v9h-13zM387 323h11v10h-11zM399 322h5v10h-5zM416 323h10v9h-10zM430 322h15v11h-15zM448 322h2v11h-2z" fill="#505050" opacity="0.6"/><rect x="25" y="338" width="570" height="40" fill="#def0bc"/><path d="M36 349h13v16h-13zM51 353h12v13h-12zM64 349h13v17h-13zM79 349h7v15h-7zM88 349h6v16h-6zM96 348h6v17h-6zM105 349h5v16h-5zM113 350h14v13h-14zM129 353h9v13h-9zM140 349h8v16h-8zM150 349h14v14h-14zM167 348h12v13h-12zM181 349h5v15h-5zM191 350h5v16h-5zM198 348h13v14h-13zM213 349h8v13h-8zM228 349h8v15h-8zM238 348h6v15h-6zM246 351h10v13h-10zM258 348h10v17h-10zM270 348h15v18h-15zM286 348h9v17h-9zM297 349h10v17h-10zM310 351h8v14h-8zM321 352h8v14h-8zM331 350h15v13h-15zM354 349h7v16h-7zM364 348h14v18h-14zM380 351h7v14h-7zM389 350h7v14h-7zM401 348h5v17h-5zM408 348h7v16h-7zM417 348h5v18h-5zM424 349h6v16h-6zM432 348h9v17h-9zM444 349h15v15h-15zM461 350h10v13h-10zM472 351h13v14h-13zM488 348h11v17h-11zM504 350h12v16h-12zM518 350h9v13h-9zM529 349h5v13h-5zM537 350h7v16h-7zM545 351h11v14h-11zM559 351h5v13h-5zM566 349h5v16h-5zM572 348h13v18h-13z" fill="#47561c" opacity="0.7"/><rect x="125" y="384" width="370" height="20" fill="#cfe3f2"/><path d="M135 389h13v9h-13zM151 389h10v8h-10zM164 389h12v8h-12zM179 390h11v9h-11zM200 389h12v10h-12zM215 389h10v8h-10zM229 389h13v9h-13zM244 389h9v9h-9zM256 390h6v8h-6zM264 391h10v8h-10zM276 390h7v9h-7zM286 390h5v8h-5zM295 389h8v8h-8zM307 390h11v9h-11zM321 390h6v9h-6zM328 389h11v7h-11zM342 390h12v7h-12zM356 390h13v7h-13zM371 391h4v8h-4zM384 391h14v8h-14zM400 389h15v9h-15zM417 391h7v8h-7zM428 389h8v9h-8zM442 390h8v9h-8zM457 391h14v8h-14zM474 390h9v9h-9z" fill="#3868b0" opacity="0.7"/></svg></g>
<rect x="401.5" y="376.9" width="78.89999999999999" height="49.2" rx="5" fill="#f4f5f6" opacity="0.9" filter="url(#b5)"/><rect x="402.6" y="378.0" width="76.69999999999999" height="47.0" rx="4" fill="#050505" filter="url(#b2)"/><rect x="407.6" y="380.7" width="66.59999999999997" height="42.19999999999999" fill="#fff"/><g filter="url(#b5)"><svg x="407.60" y="380.70" width="66.60" height="42.20" viewBox="0 0 633 406" preserveAspectRatio="none" overflow="hidden"><rect x="-5" y="-5" width="700" height="420" fill="#f5eec6"/><path d="M248 88 V275 L118 372 M248 275 H580" stroke="#9a9488" stroke-width="3" fill="none"/><path d="M278 278 L528 394" stroke="#e86040" stroke-width="3.5"/><path d="M200 152 L352 48 L455 52 L586 154 L484 194 L408 236 L294 194 Z" fill="url(#gEh)"/><path d="M306 150 Q420 88 552 146 Q486 202 408 230 Q345 202 306 150 Z" fill="url(#gEi)"/><path d="M340 150 Q400 128 470 160" stroke="#e8a070" stroke-width="3" fill="none" opacity="0.8"/><path d="M292 70 L312 64 L468 138 L468 364 L298 280 Z" fill="url(#gEp)"/><path d="M292 70 L298 280 M468 138 V364" stroke="#3894d8" stroke-width="3" fill="none"/><path d="M408 238 V330" stroke="#183c6c" stroke-width="5"/><path d="M300 110 Q390 120 466 180" stroke="#c8e4f8" stroke-width="3" fill="none" opacity="0.8"/><path d="M38 81h9v13h-9zM49 82h13v14h-13zM67 81h4v13h-4zM73 80h8v16h-8zM85 82h10v14h-10zM98 80h12v15h-12zM116 80h4v15h-4z" fill="#282420" opacity="0.75"/><path d="M38 132h14v16h-14zM55 131h7v16h-7zM77 130h12v16h-12zM92 130h8v15h-8zM111 130h12v15h-12zM136 131h4v15h-4zM145 130h14v16h-14z" fill="#282420" opacity="0.75"/><path d="M33 179h4v11h-4zM39 178h6v12h-6zM49 179h14v10h-14zM65 178h10v11h-10zM78 178h9v11h-9zM91 180h12v9h-12zM105 180h13v10h-13zM121 178h6v11h-6zM129 180h5v9h-5zM138 180h15v9h-15zM156 178h14v10h-14zM172 178h11v10h-11zM185 178h11v10h-11zM199 179h13v10h-13zM214 179h5v10h-5z" fill="#282420" opacity="0.7"/><path d="M90 211h11v13h-11zM105 211h6v14h-6zM115 211h14v13h-14zM140 210h12v15h-12zM154 210h5v14h-5zM163 211h6v12h-6zM172 210h5v15h-5zM180 212h14v13h-14zM196 212h9v11h-9z" fill="#282420" opacity="0.7"/><path d="M28 220h11v9h-11zM43 217h10v10h-10zM56 216h15v12h-15zM72 216h9v11h-9zM84 216h4v13h-4z" fill="#e04830" opacity="0.8"/><path d="M28 259h9v11h-9zM40 260h10v11h-10zM54 258h5v11h-5zM63 258h11v13h-11zM80 261h7v9h-7zM103 261h4v10h-4zM111 258h8v13h-8zM121 259h14v11h-14zM139 258h6v12h-6zM150 259h5v11h-5zM161 258h8v12h-8zM173 260h5v10h-5zM183 258h7v13h-7z" fill="#e85a40" opacity="0.75"/><path d="M528 84h5v6h-5zM545 85h7v7h-7zM556 85h10v7h-10zM570 86h13v7h-13z" fill="#c8c040" opacity="0.7"/><path d="M120 358h5v9h-5zM128 358h6v10h-6z" fill="#605848" opacity="0.6"/><path d="M310 341h9v9h-9zM321 342h9v7h-9z" fill="#605848" opacity="0.6"/></svg></g>
<rect x="495.0" y="376.9" width="78.49999999999996" height="49.2" rx="5" fill="#f4f5f6" opacity="0.9" filter="url(#b5)"/><rect x="496.1" y="378.0" width="76.29999999999995" height="47.0" rx="4" fill="#050505" filter="url(#b2)"/><rect x="501.6" y="380.7" width="65.29999999999995" height="42.19999999999999" fill="#fff"/><g filter="url(#b5)"><svg x="501.60" y="380.70" width="65.30" height="42.20" viewBox="0 0 620 406" preserveAspectRatio="none" overflow="hidden"><rect x="-5" y="-5" width="700" height="420" fill="#fff"/><path d="M336 8 V40" stroke="#30343c" stroke-width="5"/><path d="M258 238 L78 338 M378 228 L558 378" stroke="#b8bcc4" stroke-width="3" fill="none"/><path d="M193 173 L278 38 L338 33 L498 118 L398 168 L368 238 L278 203 Z" fill="url(#gFg)"/><path d="M268 33 L293 28 L378 118 L373 153 L328 118 Z" fill="#62b2ea" opacity="0.9"/><path d="M268 208 L348 238 L368 283 L278 238 Z" fill="#6cb8ec" opacity="0.9"/><path d="M273 33 L528 373" stroke="#a2449a" stroke-width="8" opacity="0.9"/><path d="M283 45 L420 228" stroke="#d84848" stroke-width="3.5" opacity="0.8"/><circle cx="520" cy="362" r="12" fill="#e04848" opacity="0.85"/><path d="M498 268h12v12h-12zM514 270h13v10h-13zM532 268h6v12h-6z" fill="#30343c" opacity="0.75"/><path d="M303 284h12v8h-12zM326 285h12v7h-12z" fill="#50545c" opacity="0.6"/><path d="M470 71h9v7h-9zM482 71h9v6h-9zM494 71h6v6h-6z" fill="#a0b0a0" opacity="0.6"/><path d="M68 332h7v8h-7zM79 333h5v8h-5z" fill="#909498" opacity="0.6"/><path d="M290 115h5v8h-5zM306 115h4v9h-4z" fill="#404448" opacity="0.6"/></svg></g>
<rect x="214.8" y="440.5" width="78.69999999999997" height="49.2" rx="5" fill="#f4f5f6" opacity="0.9" filter="url(#b5)"/><rect x="215.9" y="441.6" width="76.49999999999997" height="47.0" rx="4" fill="#050505" filter="url(#b2)"/><rect x="221.2" y="444.05" width="65.60000000000002" height="42.44999999999999" fill="#fff"/><g filter="url(#b5)"><svg x="221.20" y="444.05" width="65.60" height="42.45" viewBox="0 0 624 404" preserveAspectRatio="none" overflow="hidden"><rect x="-5" y="-5" width="700" height="420" fill="#fff"/><path d="M192 22 V235" stroke="#8c9098" stroke-width="4"/><path d="M52 318 L165 240 M337 222 Q400 215 440 235 Q420 250 380 246" stroke="#9a9ca4" stroke-width="3.5" fill="none"/><path d="M122 262 Q120 190 150 150 Q175 118 205 115 Q250 108 290 140 Q330 180 338 222 Q330 250 285 274 Q240 290 205 282 Q150 275 122 262 Z" fill="url(#gCb)"/><path d="M150 135 L335 224 M264 110 L212 276 M160 190 L290 262" stroke="#d2461c" stroke-width="6" fill="none" opacity="0.85"/><path d="M290 62 L118 375 M108 352 L118 378 L140 362" stroke="#4a62c4" stroke-width="5" fill="none"/><path d="M128 100 L215 175" stroke="#8aa0d8" stroke-width="3"/><path d="M342 109h7v16h-7zM353 108h8v16h-8zM375 108h12v18h-12zM391 108h11v18h-11zM414 109h5v17h-5zM423 110h7v13h-7zM435 109h13v14h-13zM460 108h12v16h-12zM476 108h13v18h-13zM495 109h9v17h-9zM509 109h4v14h-4zM515 108h10v15h-10zM540 109h10v16h-10zM553 108h12v18h-12zM579 110h15v13h-15zM599 110h3v13h-3z" fill="#30343c" opacity="0.72"/><path d="M197 335h13v14h-13zM213 335h10v13h-10zM227 335h12v11h-12zM242 334h5v15h-5zM250 334h7v14h-7zM262 335h5v13h-5zM282 334h11v15h-11zM298 334h14v13h-14zM315 337h13v12h-13zM333 335h13v12h-13zM359 336h12v13h-12zM376 335h4v14h-4zM385 336h5v11h-5zM394 335h15v14h-15zM413 335h13v13h-13zM430 335h5v14h-5zM439 336h10v13h-10z" fill="#484c54" opacity="0.6"/><path d="M415 227h6v13h-6zM423 226h10v14h-10z" fill="#404040" opacity="0.6"/></svg></g>
<rect x="308.79999999999995" y="440.5" width="78.60000000000004" height="49.2" rx="5" fill="#f4f5f6" opacity="0.9" filter="url(#b5)"/><rect x="309.9" y="441.6" width="76.40000000000003" height="47.0" rx="4" fill="#050505" filter="url(#b2)"/><rect x="314.9" y="444.05" width="65.70000000000005" height="42.44999999999999" fill="#fff"/><g filter="url(#b5)"><svg x="314.90" y="444.05" width="65.70" height="42.45" viewBox="0 0 625 404" preserveAspectRatio="none" overflow="hidden"><rect x="-5" y="-5" width="700" height="420" fill="#fff"/><path d="M20 30 L95 18 L245 32 L245 200 L155 190 M95 18 V60 M20 30 V160 L50 190 L155 190" stroke="#9aa0a8" stroke-width="3" fill="none"/><path d="M50 200 L120 170 L200 178 L130 196 Z" fill="#68c8b8" opacity="0.75"/><path d="M100 15 V175" stroke="#1c2c34" stroke-width="7"/><path d="M25 62 L98 38 M102 132 Q160 150 218 168" stroke="#d83a30" stroke-width="7" fill="none"/><path d="M25 72 L120 125 L218 168" stroke="#3848b8" stroke-width="6" fill="none"/><circle cx="100" cy="30" r="7" fill="#202428"/><circle cx="220" cy="168" r="6" fill="#202428"/><circle cx="100" cy="160" r="7" fill="#186c68"/><path d="M18 135h12v12h-12zM34 136h6v10h-6z" fill="#404040" opacity="0.7"/><path d="M425 22 L318 158 L400 200 L520 218 L605 178 Z" fill="#fff" stroke="#30343c" stroke-width="3.5"/><path d="M425 22 L400 200 M425 22 L520 218 M425 22 L470 140 L605 178 M318 158 L470 140 M470 140 L520 218" stroke="#30343c" stroke-width="3.5" fill="none"/><path d="M425 24 L325 152 M605 180 L535 210" stroke="#e04038" stroke-width="7" fill="none"/><path d="M318 162 L480 178 L560 172" stroke="#3c50c0" stroke-width="6" fill="none"/><circle cx="425" cy="24" r="7" fill="#202428"/><circle cx="470" cy="140" r="6" fill="#202428"/><circle cx="320" cy="160" r="6" fill="#a03070"/><circle cx="604" cy="178" r="6" fill="#c03040"/><path d="M350 86h11v9h-11zM364 85h8v10h-8z" fill="#404040" opacity="0.7"/><path d="M520 81h4v8h-4zM528 81h10v9h-10zM542 81h3v9h-3z" fill="#404040" opacity="0.7"/><path d="M16 244h16v25h-16zM40 245h24v25h-24zM75 245h17v22h-17zM95 245h13v25h-13zM112 250h17v19h-17zM131 245h14v24h-14zM147 248h19v19h-19zM176 244h23v25h-23zM202 247h15v20h-15zM220 245h8v24h-8z" fill="#101010" opacity="0.85"/><path d="M16 278h10v14h-10zM38 279h5v12h-5zM47 278h9v14h-9zM61 281h12v11h-12zM78 281h6v11h-6zM94 278h9v16h-9zM105 280h11v13h-11zM122 280h13v13h-13zM137 281h6v12h-6zM146 278h9v13h-9zM170 278h7v14h-7zM180 281h8v11h-8zM193 279h11v14h-11z" fill="#202020" opacity="0.7"/><path d="M16 305h14v12h-14zM43 305h7v13h-7zM54 306h11v12h-11zM69 305h13v12h-13zM87 304h13v14h-13zM104 307h14v11h-14zM121 305h5v11h-5zM131 305h13v11h-13zM147 305h14v13h-14zM166 305h10v10h-10zM179 308h11v10h-11z" fill="#303030" opacity="0.65"/><path d="M20 345 L75 328 L140 350 M30 372 L100 352 L150 368 M20 388 L110 384" stroke="#50545c" stroke-width="3" fill="none" opacity="0.7"/><path d="M332 248h11v10h-11zM348 250h14v8h-14zM366 249h11v7h-11zM393 250h14v7h-14zM411 248h13v9h-13zM428 249h13v8h-13zM445 248h5v9h-5zM455 248h7v8h-7zM476 249h9v9h-9zM490 249h5v8h-5zM502 249h3v8h-3z" fill="#50545c" opacity="0.55"/><path d="M336 288h26v22h-26zM365 289h21v22h-21zM388 287h21v24h-21zM411 286h29v26h-29zM442 282h25v29h-25zM476 284h24v22h-24zM503 285h15v24h-15zM521 287h14v24h-14zM537 284h26v22h-26zM566 285h9v22h-9z" fill="#101010" opacity="0.85"/><path d="M336 322h14v9h-14zM353 322h7v10h-7z" fill="#303030" opacity="0.7"/></svg></g>
<rect x="401.5" y="440.5" width="78.89999999999999" height="49.2" rx="5" fill="#f4f5f6" opacity="0.9" filter="url(#b5)"/><rect x="402.6" y="441.6" width="76.69999999999999" height="47.0" rx="4" fill="#050505" filter="url(#b2)"/><rect x="407.6" y="444.05" width="66.59999999999997" height="42.44999999999999" fill="#fff"/><g filter="url(#b5)"><svg x="407.60" y="444.05" width="66.60" height="42.45" viewBox="0 0 633 404" preserveAspectRatio="none" overflow="hidden"><rect x="-5" y="-5" width="700" height="420" fill="#fff"/><path d="M82 110 V282 L300 372 L598 308 L598 140 M82 282 L380 232 L598 308 M380 232 V70 M82 180 L380 130 L598 200 M82 230 L380 180 L598 255" stroke="#d4d6da" stroke-width="2.5" fill="none"/><path d="M60 281h6v7h-6zM69 281h7v6h-7z" fill="#a0a4a8" opacity="0.6"/><path d="M180 337h10v6h-10zM193 337h3v7h-3z" fill="#a0a4a8" opacity="0.6"/><path d="M290 378h9v8h-9zM301 379h5v6h-5z" fill="#a0a4a8" opacity="0.6"/><path d="M450 345h13v7h-13z" fill="#a0a4a8" opacity="0.6"/><path d="M268 200 Q300 215 330 254 Q345 262 362 252 Q395 212 420 196 Q340 190 268 200 Z" fill="url(#gGu)"/><path d="M86 112 Q215 128 363 47 Q460 120 570 132 Q470 175 420 196 Q350 215 308 197 Q290 195 268 200 Q170 170 86 112 Z" fill="url(#gGs)"/><g clip-path="url(#gGc)"><ellipse cx="92" cy="112" rx="95" ry="50" fill="url(#gGr)"/><ellipse cx="363" cy="50" rx="90" ry="55" fill="url(#gGr)"/><ellipse cx="566" cy="130" rx="95" ry="50" fill="url(#gGr)"/><ellipse cx="316" cy="200" rx="50" ry="14" fill="url(#gGr)"/></g></svg></g>
<rect x="495.0" y="440.5" width="78.49999999999996" height="49.2" rx="5" fill="#f4f5f6" opacity="0.9" filter="url(#b5)"/><rect x="496.1" y="441.6" width="76.29999999999995" height="47.0" rx="4" fill="#050505" filter="url(#b2)"/><rect x="501.6" y="444.05" width="65.29999999999995" height="42.44999999999999" fill="#fff"/><g filter="url(#b5)"><svg x="501.60" y="444.05" width="65.30" height="42.45" viewBox="0 0 620 404" preserveAspectRatio="none" overflow="hidden"><rect x="-5" y="-5" width="700" height="420" fill="#fff"/><path d="M38 150 V272 L428 382 L598 182 M38 272 L258 60 M598 182 V85" stroke="#c8ccd2" stroke-width="2.5" fill="none"/><rect x="22" y="160" width="10" height="5" fill="#70747c" opacity="0.7"/><rect x="22" y="186" width="10" height="5" fill="#70747c" opacity="0.7"/><rect x="22" y="212" width="10" height="5" fill="#70747c" opacity="0.7"/><rect x="22" y="238" width="10" height="5" fill="#70747c" opacity="0.7"/><rect x="22" y="264" width="10" height="5" fill="#70747c" opacity="0.7"/><rect x="60" y="288" width="10" height="6" fill="#70747c" opacity="0.7"/><rect x="470" y="350" width="10" height="6" fill="#70747c" opacity="0.7"/><rect x="150" y="314" width="10" height="6" fill="#70747c" opacity="0.7"/><rect x="508" y="304" width="10" height="6" fill="#70747c" opacity="0.7"/><rect x="240" y="340" width="10" height="6" fill="#70747c" opacity="0.7"/><rect x="546" y="258" width="10" height="6" fill="#70747c" opacity="0.7"/><rect x="330" y="366" width="10" height="6" fill="#70747c" opacity="0.7"/><rect x="584" y="212" width="10" height="6" fill="#70747c" opacity="0.7"/><path d="M28 147 Q150 95 258 17 Q420 75 588 82 Q560 170 518 222 Q440 270 338 277 Q250 270 188 242 Q100 205 28 147 Z" fill="url(#gHs)"/><path d="M28 147 Q150 95 258 17 Q420 75 588 82 Q560 170 518 222 Q440 270 338 277 Q250 270 188 242 Q100 205 28 147 Z" fill="url(#gHb)"/><path d="M47 136 Q114 239 221 252 M54 158 Q190 120 286 22 M66 125 Q140 236 255 258 M80 169 Q216 128 313 28 M86 114 Q167 232 288 259 M106 180 Q243 136 340 33 M105 104 Q193 225 321 256 M131 190 Q270 144 368 39 M124 93 Q219 216 355 249 M157 201 Q296 153 396 44 M143 82 Q246 205 388 238 M183 212 Q323 161 423 50 M162 71 Q272 192 421 223 M209 223 Q350 169 450 55 M181 60 Q298 177 455 203 M235 234 Q376 177 478 60 M200 50 Q324 159 488 179 M260 244 Q403 185 506 66 M220 39 Q350 140 521 151 M286 255 Q430 193 533 71 M239 28 Q377 118 555 119 M312 266 Q456 201 560 77 " stroke="#28305c" stroke-width="1.3" fill="none" opacity="0.32"/></svg></g>
<rect x="640.3" y="171.8" width="92.80000000000003" height="57.3" rx="5.5" fill="#f4f5f6" opacity="0.9" filter="url(#b5)"/><rect x="641.4" y="172.9" width="90.60000000000002" height="55.099999999999994" rx="4.5" fill="#050505" filter="url(#b2)"/><rect x="648" y="175.2" width="77.89999999999998" height="50.20000000000002" fill="#9aa8ac"/><g filter="url(#b5)"><rect x="648" y="175.2" width="77.9" height="50.2" fill="url(#ttbg)"/><rect x="648" y="175.2" width="77.9" height="5.2" fill="#6f8890" opacity="0.75"/><rect x="648" y="175.6" width="2" height="4.4" fill="#e89040"/><rect x="651.5" y="177" width="8.5" height="1.6" fill="#dfe8ea" opacity="0.85"/><rect x="713.6" y="176.8" width="9" height="2.7" rx="1.3" fill="#e8202c"/><rect x="651.2" y="183.9" width="16.399999999999977" height="14" fill="#93cf94"/><rect x="657.4000000000001" y="187" width="4" height="4" rx="1" fill="#fff" opacity="0.6"/><rect x="657.2" y="193.6" width="4.4" height="1" fill="#fff" opacity="0.55"/><rect x="669.9" y="183.9" width="16.899999999999977" height="14" fill="#7cc3e4"/><rect x="676.3499999999999" y="187" width="4" height="4" rx="1" fill="#fff" opacity="0.6"/><rect x="676.1499999999999" y="193.6" width="4.4" height="1" fill="#fff" opacity="0.55"/><rect x="688.6" y="183.9" width="16.600000000000023" height="14" fill="#c07ccc"/><rect x="694.9000000000001" y="187" width="4" height="4" rx="1" fill="#fff" opacity="0.6"/><rect x="694.7" y="193.6" width="4.4" height="1" fill="#fff" opacity="0.55"/><rect x="707" y="183.9" width="15.899999999999977" height="14" fill="#9ad274"/><rect x="712.95" y="187" width="4" height="4" rx="1" fill="#fff" opacity="0.6"/><rect x="712.75" y="193.6" width="4.4" height="1" fill="#fff" opacity="0.55"/><rect x="651.2" y="201.7" width="16.399999999999977" height="13.7" fill="#7cc3e4"/><rect x="657.4000000000001" y="205" width="4" height="4" rx="1" fill="#fff" opacity="0.65"/><rect x="657.2" y="211.4" width="4.4" height="1" fill="#fff" opacity="0.55"/><rect x="669.9" y="201.7" width="16.899999999999977" height="13.7" fill="#74cbbb"/><rect x="676.3499999999999" y="205" width="4" height="4" rx="1" fill="#fff" opacity="0.65"/><rect x="676.1499999999999" y="211.4" width="4.4" height="1" fill="#fff" opacity="0.55"/><rect x="688.6" y="201.7" width="16.600000000000023" height="13.7" fill="#b637a8"/><rect x="694.9000000000001" y="205" width="4" height="4" rx="1" fill="#fff" opacity="0.65"/><rect x="694.7" y="211.4" width="4.4" height="1" fill="#fff" opacity="0.55"/><rect x="707" y="201.7" width="15.899999999999977" height="13.7" fill="#4c9ca6"/><rect x="712.95" y="205" width="4" height="4" rx="1" fill="#fff" opacity="0.65"/><rect x="712.75" y="211.4" width="4.4" height="1" fill="#fff" opacity="0.55"/><rect x="705" y="221.6" width="13" height="1" fill="#5a7cc0" opacity="0.7"/><rect x="719.4" y="220.9" width="2.2" height="2.2" rx="0.6" fill="#2c58b0"/></g>
<g filter="url(#b3)"><path d="M248.8 298 L391.9 298 L404.9 309 L236.4 309 Z" fill="url(#swtop)"/><rect x="236.4" y="308.8" width="168.5" height="14.6" fill="#4b5457"/><rect x="236.4" y="308.8" width="168.5" height="2.4" fill="#626b6f"/><rect x="236.4" y="321.6" width="168.5" height="1.8" fill="#414a4d"/><rect x="236.4" y="309.4" width="4.8" height="13.4" fill="#565f63"/><rect x="239.7" y="311.4" width="1.8" height="1.8" fill="#d0cdc6"/><rect x="239.7" y="319.6" width="1.8" height="1.8" fill="#d0cdc6"/><rect x="239.8" y="314.4" width="1.6" height="4" fill="#96604f"/><rect x="249.3" y="311.9" width="6.4" height="9.4" rx="0.8" fill="#5f686b"/><ellipse cx="252.5" cy="314" rx="2.5" ry="1.5" fill="#22282b"/><ellipse cx="252.5" cy="319.2" rx="2.6" ry="1.7" fill="#1e2427"/><rect x="250.20000000000002" y="317.1" width="4.6" height="0.8" fill="#8e9698"/><rect x="256.7" y="311.9" width="6.4" height="9.4" rx="0.8" fill="#5f686b"/><ellipse cx="259.9" cy="314" rx="2.5" ry="1.5" fill="#22282b"/><ellipse cx="259.9" cy="319.2" rx="2.6" ry="1.7" fill="#1e2427"/><rect x="257.59999999999997" y="317.1" width="4.6" height="0.8" fill="#8e9698"/><rect x="264.7" y="311.7" width="33.5" height="9.4" fill="#cfcbc2"/><path d="M265.25 316 L266.25 312.3 L269.15 312.3 L270.15 316 Z M265.25 317.4 L270.15 317.4 L269.15 320.6 L266.25 320.6 Z M270.73 316 L271.73 312.3 L274.63 312.3 L275.63 316 Z M270.73 317.4 L275.63 317.4 L274.63 320.6 L271.73 320.6 Z M276.21 316 L277.21 312.3 L280.11 312.3 L281.11 316 Z M276.21 317.4 L281.11 317.4 L280.11 320.6 L277.21 320.6 Z M281.69 316 L282.69 312.3 L285.59 312.3 L286.59 316 Z M281.69 317.4 L286.59 317.4 L285.59 320.6 L282.69 320.6 Z M287.17 316 L288.17 312.3 L291.07 312.3 L292.07 316 Z M287.17 317.4 L292.07 317.4 L291.07 320.6 L288.17 320.6 Z M292.65 316 L293.65 312.3 L296.55 312.3 L297.55 316 Z M292.65 317.4 L297.55 317.4 L296.55 320.6 L293.65 320.6 Z " fill="#23292c"/><rect x="299.78" y="311.7" width="33.5" height="9.4" fill="#cfcbc2"/><path d="M300.33 316 L301.33 312.3 L304.23 312.3 L305.23 316 Z M300.33 317.4 L305.23 317.4 L304.23 320.6 L301.33 320.6 Z M305.81 316 L306.81 312.3 L309.71 312.3 L310.71 316 Z M305.81 317.4 L310.71 317.4 L309.71 320.6 L306.81 320.6 Z M311.29 316 L312.29 312.3 L315.19 312.3 L316.19 316 Z M311.29 317.4 L316.19 317.4 L315.19 320.6 L312.29 320.6 Z M316.77 316 L317.77 312.3 L320.67 312.3 L321.67 316 Z M316.77 317.4 L321.67 317.4 L320.67 320.6 L317.77 320.6 Z M322.25 316 L323.25 312.3 L326.15 312.3 L327.15 316 Z M322.25 317.4 L327.15 317.4 L326.15 320.6 L323.25 320.6 Z M327.73 316 L328.73 312.3 L331.63 312.3 L332.63 316 Z M327.73 317.4 L332.63 317.4 L331.63 320.6 L328.73 320.6 Z " fill="#23292c"/><rect x="334.86" y="311.7" width="33.5" height="9.4" fill="#cfcbc2"/><path d="M335.41 316 L336.41 312.3 L339.31 312.3 L340.31 316 Z M335.41 317.4 L340.31 317.4 L339.31 320.6 L336.41 320.6 Z M340.89 316 L341.89 312.3 L344.79 312.3 L345.79 316 Z M340.89 317.4 L345.79 317.4 L344.79 320.6 L341.89 320.6 Z M346.37 316 L347.37 312.3 L350.27 312.3 L351.27 316 Z M346.37 317.4 L351.27 317.4 L350.27 320.6 L347.37 320.6 Z M351.85 316 L352.85 312.3 L355.75 312.3 L356.75 316 Z M351.85 317.4 L356.75 317.4 L355.75 320.6 L352.85 320.6 Z M357.33 316 L358.33 312.3 L361.23 312.3 L362.23 316 Z M357.33 317.4 L362.23 317.4 L361.23 320.6 L358.33 320.6 Z M362.81 316 L363.81 312.3 L366.71 312.3 L367.71 316 Z M362.81 317.4 L367.71 317.4 L366.71 320.6 L363.81 320.6 Z " fill="#23292c"/><rect x="369.94" y="311.7" width="33.5" height="9.4" fill="#cfcbc2"/><path d="M370.49 316 L371.49 312.3 L374.39 312.3 L375.39 316 Z M370.49 317.4 L375.39 317.4 L374.39 320.6 L371.49 320.6 Z M375.97 316 L376.97 312.3 L379.87 312.3 L380.87 316 Z M375.97 317.4 L380.87 317.4 L379.87 320.6 L376.97 320.6 Z M381.45 316 L382.45 312.3 L385.35 312.3 L386.35 316 Z M381.45 317.4 L386.35 317.4 L385.35 320.6 L382.45 320.6 Z M386.93 316 L387.93 312.3 L390.83 312.3 L391.83 316 Z M386.93 317.4 L391.83 317.4 L390.83 320.6 L387.93 320.6 Z M392.41 316 L393.41 312.3 L396.31 312.3 L397.31 316 Z M392.41 317.4 L397.31 317.4 L396.31 320.6 L393.41 320.6 Z M397.89 316 L398.89 312.3 L401.79 312.3 L402.79 316 Z M397.89 317.4 L402.79 317.4 L401.79 320.6 L398.89 320.6 Z " fill="#23292c"/></g>
<g filter="url(#b5)"><path d="M487.5 306.5 Q484.3 310 484.7 314 L485.3 318.4 Q485.7 321.2 489 322 L517 326.9 Q521.6 327.6 524 324.6 L539.8 303.2 Q541.4 300.8 541.1 298 L540.6 296.2 L520 305 Z" fill="url(#rside)"/><path d="M518.2 322.4 L519.4 327.1 Q522.4 327.2 524 324.6 L539.8 303.2 Q541.4 300.8 541.1 298 L540.4 294.6 Z" fill="#b4b6b9" filter="url(#b5)"/><path d="M500.2 291.2 Q503 287.6 507.6 288.3 L535.8 293.2 Q542 294.6 539.2 298.8 L523.6 319.6 Q520.6 323.2 516 322.2 L489.4 315.6 Q483.4 313.8 486.8 309.2 Z" fill="url(#rtop)"/><path d="M490 314.6 L516.4 321.2 Q519.6 321.8 522 319 L537.6 298.4" stroke="#dcdde0" stroke-width="1.1" fill="none" filter="url(#b9)"/><path d="M490.5 309 Q495 305 501 306.5" stroke="#e4e5e8" stroke-width="0.8" fill="none" filter="url(#b9)"/></g>
<g fill="none" stroke="#86bae2" stroke-width="2.0" stroke-linecap="butt" opacity="1" filter="url(#b5)"><path d="M541.07 287.87 A4.8 4.8 0 0 1 546.68 293.02"/><path d="M540.41 284.13 A8.6 8.6 0 0 1 550.47 293.35"/><circle cx="541.9" cy="292.6" r="1.55" fill="#86bae2" stroke="none"/></g>
<g fill="none" stroke="#a3caea" stroke-width="2.1" stroke-linecap="butt" opacity="1" filter="url(#b5)"><path d="M639.91 238.69 A4.4 4.4 0 0 1 635.21 233.99"/><path d="M640.21 242.98 A8.7 8.7 0 0 1 630.92 233.69"/><circle cx="639.6" cy="234.3" r="1.5" fill="#a3caea" stroke="none"/></g>
<g fill="none" stroke="#9ac9ea" stroke-width="2.0" stroke-linecap="butt" opacity="1" filter="url(#b5)"><path d="M292.00 370.96 A4.5 4.5 0 0 1 297.19 375.64"/><path d="M291.34 366.81 A8.7 8.7 0 0 1 301.39 375.86"/><circle cx="292.7" cy="375.4" r="1.55" fill="#9ac9ea" stroke="none"/></g>
<g fill="none" stroke="#9ac9ea" stroke-width="2.0" stroke-linecap="butt" opacity="1" filter="url(#b5)"><path d="M383.90 370.96 A4.5 4.5 0 0 1 389.09 375.64"/><path d="M383.24 366.81 A8.7 8.7 0 0 1 393.29 375.86"/><circle cx="384.6" cy="375.4" r="1.55" fill="#9ac9ea" stroke="none"/></g>
<g fill="none" stroke="#9ac9ea" stroke-width="2.0" stroke-linecap="butt" opacity="1" filter="url(#b5)"><path d="M292.00 435.46 A4.5 4.5 0 0 1 297.19 440.14"/><path d="M291.34 431.31 A8.7 8.7 0 0 1 301.39 440.36"/><circle cx="292.7" cy="439.9" r="1.55" fill="#9ac9ea" stroke="none"/></g>
<g fill="none" stroke="#9ac9ea" stroke-width="2.0" stroke-linecap="butt" opacity="1" filter="url(#b5)"><path d="M383.90 435.46 A4.5 4.5 0 0 1 389.09 440.14"/><path d="M383.24 431.31 A8.7 8.7 0 0 1 393.29 440.36"/><circle cx="384.6" cy="439.9" r="1.55" fill="#9ac9ea" stroke="none"/></g>
<g fill="none" stroke="#9ac9ea" stroke-width="2.0" stroke-linecap="butt" opacity="1" filter="url(#b5)"><path d="M475.30 370.96 A4.5 4.5 0 0 1 480.49 375.64"/><path d="M474.64 366.81 A8.7 8.7 0 0 1 484.69 375.86"/><circle cx="476.0" cy="375.4" r="1.55" fill="#9ac9ea" stroke="none"/></g>
<g fill="none" stroke="#9ac9ea" stroke-width="2.0" stroke-linecap="butt" opacity="1" filter="url(#b5)"><path d="M570.10 370.96 A4.5 4.5 0 0 1 575.29 375.64"/><path d="M569.44 366.81 A8.7 8.7 0 0 1 579.49 375.86"/><circle cx="570.8" cy="375.4" r="1.55" fill="#9ac9ea" stroke="none"/></g>
<g fill="none" stroke="#9ac9ea" stroke-width="2.0" stroke-linecap="butt" opacity="1" filter="url(#b5)"><path d="M475.30 435.46 A4.5 4.5 0 0 1 480.49 440.14"/><path d="M474.64 431.31 A8.7 8.7 0 0 1 484.69 440.36"/><circle cx="476.0" cy="439.9" r="1.55" fill="#9ac9ea" stroke="none"/></g>
<g fill="none" stroke="#9ac9ea" stroke-width="2.0" stroke-linecap="butt" opacity="1" filter="url(#b5)"><path d="M570.10 435.46 A4.5 4.5 0 0 1 575.29 440.14"/><path d="M569.44 431.31 A8.7 8.7 0 0 1 579.49 440.36"/><circle cx="570.8" cy="439.9" r="1.55" fill="#9ac9ea" stroke="none"/></g></g></svg></body></html>
